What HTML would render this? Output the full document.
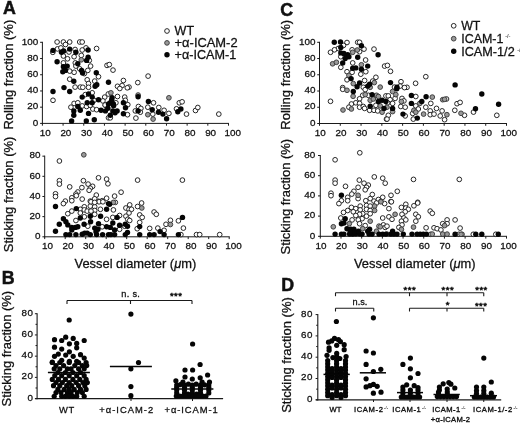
<!DOCTYPE html>
<html><head><meta charset="utf-8"><title>Figure</title>
<style>html,body{margin:0;padding:0;background:#fff}svg{display:block;will-change:transform}</style></head>
<body>
<svg width="520" height="423" viewBox="0 0 520 423" font-family='"Liberation Sans", Arial, Helvetica, sans-serif'>
<rect width="520" height="423" fill="#fff"/>
<text x="3.00" y="14.00" font-size="17.8" text-anchor="start" font-weight="bold" fill="#111" stroke="#111" stroke-width="0.5" >A</text>
<text x="1.80" y="284.30" font-size="17.8" text-anchor="start" font-weight="bold" fill="#111" stroke="#111" stroke-width="0.5" >B</text>
<text x="280.20" y="15.70" font-size="17.8" text-anchor="start" font-weight="bold" fill="#111" stroke="#111" stroke-width="0.5" >C</text>
<text x="281.20" y="290.80" font-size="17.8" text-anchor="start" font-weight="bold" fill="#111" stroke="#111" stroke-width="0.5" >D</text>
<line x1="42.40" y1="41.80" x2="42.40" y2="123.90" stroke="#1a1a1a" stroke-width="1.0"/>
<line x1="41.90" y1="123.40" x2="229.00" y2="123.40" stroke="#1a1a1a" stroke-width="1.0"/>
<line x1="40.10" y1="123.40" x2="42.40" y2="123.40" stroke="#1a1a1a" stroke-width="1.0"/>
<text x="38.20" y="125.60" font-size="9.9" text-anchor="end" font-weight="normal" fill="#111" stroke="#111" stroke-width="0.28" >0</text>
<line x1="40.10" y1="107.18" x2="42.40" y2="107.18" stroke="#1a1a1a" stroke-width="1.0"/>
<text x="38.20" y="109.38" font-size="9.9" text-anchor="end" font-weight="normal" fill="#111" stroke="#111" stroke-width="0.28" >20</text>
<line x1="40.10" y1="90.96" x2="42.40" y2="90.96" stroke="#1a1a1a" stroke-width="1.0"/>
<text x="38.20" y="93.16" font-size="9.9" text-anchor="end" font-weight="normal" fill="#111" stroke="#111" stroke-width="0.28" >40</text>
<line x1="40.10" y1="74.74" x2="42.40" y2="74.74" stroke="#1a1a1a" stroke-width="1.0"/>
<text x="38.20" y="76.94" font-size="9.9" text-anchor="end" font-weight="normal" fill="#111" stroke="#111" stroke-width="0.28" >60</text>
<line x1="40.10" y1="58.52" x2="42.40" y2="58.52" stroke="#1a1a1a" stroke-width="1.0"/>
<text x="38.20" y="60.72" font-size="9.9" text-anchor="end" font-weight="normal" fill="#111" stroke="#111" stroke-width="0.28" >80</text>
<line x1="40.10" y1="42.30" x2="42.40" y2="42.30" stroke="#1a1a1a" stroke-width="1.0"/>
<text x="38.20" y="44.50" font-size="9.9" text-anchor="end" font-weight="normal" fill="#111" stroke="#111" stroke-width="0.28" >100</text>
<line x1="42.40" y1="123.40" x2="42.40" y2="125.70" stroke="#1a1a1a" stroke-width="1.0"/>
<text x="45.20" y="136.00" font-size="9.9" text-anchor="middle" font-weight="normal" fill="#111" stroke="#111" stroke-width="0.28" >10</text>
<line x1="63.08" y1="123.40" x2="63.08" y2="125.70" stroke="#1a1a1a" stroke-width="1.0"/>
<text x="65.88" y="136.00" font-size="9.9" text-anchor="middle" font-weight="normal" fill="#111" stroke="#111" stroke-width="0.28" >20</text>
<line x1="83.76" y1="123.40" x2="83.76" y2="125.70" stroke="#1a1a1a" stroke-width="1.0"/>
<text x="86.56" y="136.00" font-size="9.9" text-anchor="middle" font-weight="normal" fill="#111" stroke="#111" stroke-width="0.28" >30</text>
<line x1="104.43" y1="123.40" x2="104.43" y2="125.70" stroke="#1a1a1a" stroke-width="1.0"/>
<text x="107.23" y="136.00" font-size="9.9" text-anchor="middle" font-weight="normal" fill="#111" stroke="#111" stroke-width="0.28" >40</text>
<line x1="125.11" y1="123.40" x2="125.11" y2="125.70" stroke="#1a1a1a" stroke-width="1.0"/>
<text x="127.91" y="136.00" font-size="9.9" text-anchor="middle" font-weight="normal" fill="#111" stroke="#111" stroke-width="0.28" >50</text>
<line x1="145.79" y1="123.40" x2="145.79" y2="125.70" stroke="#1a1a1a" stroke-width="1.0"/>
<text x="148.59" y="136.00" font-size="9.9" text-anchor="middle" font-weight="normal" fill="#111" stroke="#111" stroke-width="0.28" >60</text>
<line x1="166.47" y1="123.40" x2="166.47" y2="125.70" stroke="#1a1a1a" stroke-width="1.0"/>
<text x="169.27" y="136.00" font-size="9.9" text-anchor="middle" font-weight="normal" fill="#111" stroke="#111" stroke-width="0.28" >70</text>
<line x1="187.14" y1="123.40" x2="187.14" y2="125.70" stroke="#1a1a1a" stroke-width="1.0"/>
<text x="189.94" y="136.00" font-size="9.9" text-anchor="middle" font-weight="normal" fill="#111" stroke="#111" stroke-width="0.28" >80</text>
<line x1="207.82" y1="123.40" x2="207.82" y2="125.70" stroke="#1a1a1a" stroke-width="1.0"/>
<text x="210.62" y="136.00" font-size="9.9" text-anchor="middle" font-weight="normal" fill="#111" stroke="#111" stroke-width="0.28" >90</text>
<line x1="228.50" y1="123.40" x2="228.50" y2="125.70" stroke="#1a1a1a" stroke-width="1.0"/>
<text x="232.80" y="136.00" font-size="9.9" text-anchor="middle" font-weight="normal" fill="#111" stroke="#111" stroke-width="0.28" >100</text>
<circle cx="57.1" cy="42.0" r="2.35" fill="#fff" stroke="#1c1c1c" stroke-width="0.95"/>
<circle cx="63.4" cy="42.0" r="2.35" fill="#fff" stroke="#1c1c1c" stroke-width="0.95"/>
<circle cx="69.7" cy="42.0" r="2.35" fill="#fff" stroke="#1c1c1c" stroke-width="0.95"/>
<circle cx="79.7" cy="42.0" r="2.35" fill="#fff" stroke="#1c1c1c" stroke-width="0.95"/>
<circle cx="82.2" cy="42.0" r="2.35" fill="#fff" stroke="#1c1c1c" stroke-width="0.95"/>
<circle cx="65.5" cy="44.5" r="2.35" fill="#fff" stroke="#1c1c1c" stroke-width="0.95"/>
<circle cx="57.5" cy="48.9" r="2.35" fill="#fff" stroke="#1c1c1c" stroke-width="0.95"/>
<circle cx="60.9" cy="47.9" r="2.35" fill="#fff" stroke="#1c1c1c" stroke-width="0.95"/>
<circle cx="96.6" cy="48.5" r="2.35" fill="#fff" stroke="#1c1c1c" stroke-width="0.95"/>
<circle cx="86.0" cy="47.9" r="2.35" fill="#fff" stroke="#1c1c1c" stroke-width="0.95"/>
<circle cx="82.2" cy="50.0" r="2.35" fill="#fff" stroke="#1c1c1c" stroke-width="0.95"/>
<circle cx="75.1" cy="49.5" r="2.35" fill="#fff" stroke="#1c1c1c" stroke-width="0.95"/>
<circle cx="69.0" cy="52.0" r="2.35" fill="#fff" stroke="#1c1c1c" stroke-width="0.95"/>
<circle cx="63.4" cy="56.0" r="2.35" fill="#fff" stroke="#1c1c1c" stroke-width="0.95"/>
<circle cx="67.5" cy="58.8" r="2.35" fill="#fff" stroke="#1c1c1c" stroke-width="0.95"/>
<circle cx="74.1" cy="56.7" r="2.35" fill="#fff" stroke="#1c1c1c" stroke-width="0.95"/>
<circle cx="81.3" cy="55.4" r="2.35" fill="#fff" stroke="#1c1c1c" stroke-width="0.95"/>
<circle cx="63.4" cy="62.9" r="2.35" fill="#fff" stroke="#1c1c1c" stroke-width="0.95"/>
<circle cx="75.3" cy="62.9" r="2.35" fill="#fff" stroke="#1c1c1c" stroke-width="0.95"/>
<circle cx="75.9" cy="66.1" r="2.35" fill="#fff" stroke="#1c1c1c" stroke-width="0.95"/>
<circle cx="90.6" cy="66.1" r="2.35" fill="#fff" stroke="#1c1c1c" stroke-width="0.95"/>
<circle cx="87.8" cy="70.4" r="2.35" fill="#fff" stroke="#1c1c1c" stroke-width="0.95"/>
<circle cx="74.1" cy="72.3" r="2.35" fill="#fff" stroke="#1c1c1c" stroke-width="0.95"/>
<circle cx="69.7" cy="71.1" r="2.35" fill="#fff" stroke="#1c1c1c" stroke-width="0.95"/>
<circle cx="79.7" cy="68.8" r="2.35" fill="#fff" stroke="#1c1c1c" stroke-width="0.95"/>
<circle cx="84.3" cy="73.6" r="2.35" fill="#fff" stroke="#1c1c1c" stroke-width="0.95"/>
<circle cx="69.7" cy="79.2" r="2.35" fill="#fff" stroke="#1c1c1c" stroke-width="0.95"/>
<circle cx="87.2" cy="79.8" r="2.35" fill="#fff" stroke="#1c1c1c" stroke-width="0.95"/>
<circle cx="88.5" cy="83.6" r="2.35" fill="#fff" stroke="#1c1c1c" stroke-width="0.95"/>
<circle cx="94.7" cy="81.1" r="2.35" fill="#fff" stroke="#1c1c1c" stroke-width="0.95"/>
<circle cx="98.5" cy="76.7" r="2.35" fill="#fff" stroke="#1c1c1c" stroke-width="0.95"/>
<circle cx="107.0" cy="65.4" r="2.35" fill="#fff" stroke="#1c1c1c" stroke-width="0.95"/>
<circle cx="75.1" cy="87.1" r="2.35" fill="#fff" stroke="#1c1c1c" stroke-width="0.95"/>
<circle cx="80.3" cy="87.1" r="2.35" fill="#fff" stroke="#1c1c1c" stroke-width="0.95"/>
<circle cx="82.8" cy="87.3" r="2.35" fill="#fff" stroke="#1c1c1c" stroke-width="0.95"/>
<circle cx="88.5" cy="87.3" r="2.35" fill="#fff" stroke="#1c1c1c" stroke-width="0.95"/>
<circle cx="52.8" cy="52.3" r="2.35" fill="#fff" stroke="#1c1c1c" stroke-width="0.95"/>
<circle cx="89.3" cy="60.4" r="2.35" fill="#fff" stroke="#1c1c1c" stroke-width="0.95"/>
<circle cx="109.3" cy="64.6" r="2.35" fill="#fff" stroke="#1c1c1c" stroke-width="0.95"/>
<circle cx="113.0" cy="70.1" r="2.35" fill="#fff" stroke="#1c1c1c" stroke-width="0.95"/>
<circle cx="123.4" cy="80.5" r="2.35" fill="#fff" stroke="#1c1c1c" stroke-width="0.95"/>
<circle cx="148.1" cy="76.1" r="2.35" fill="#fff" stroke="#1c1c1c" stroke-width="0.95"/>
<circle cx="137.8" cy="82.6" r="2.35" fill="#fff" stroke="#1c1c1c" stroke-width="0.95"/>
<circle cx="117.5" cy="86.3" r="2.35" fill="#fff" stroke="#1c1c1c" stroke-width="0.95"/>
<circle cx="122.1" cy="85.5" r="2.35" fill="#fff" stroke="#1c1c1c" stroke-width="0.95"/>
<circle cx="129.0" cy="87.1" r="2.35" fill="#fff" stroke="#1c1c1c" stroke-width="0.95"/>
<circle cx="53.0" cy="100.3" r="2.35" fill="#fff" stroke="#1c1c1c" stroke-width="0.95"/>
<circle cx="92.2" cy="92.8" r="2.35" fill="#fff" stroke="#1c1c1c" stroke-width="0.95"/>
<circle cx="85.3" cy="94.6" r="2.35" fill="#fff" stroke="#1c1c1c" stroke-width="0.95"/>
<circle cx="74.1" cy="103.4" r="2.35" fill="#fff" stroke="#1c1c1c" stroke-width="0.95"/>
<circle cx="70.9" cy="107.2" r="2.35" fill="#fff" stroke="#1c1c1c" stroke-width="0.95"/>
<circle cx="77.8" cy="102.8" r="2.35" fill="#fff" stroke="#1c1c1c" stroke-width="0.95"/>
<circle cx="82.2" cy="105.9" r="2.35" fill="#fff" stroke="#1c1c1c" stroke-width="0.95"/>
<circle cx="86.6" cy="106.5" r="2.35" fill="#fff" stroke="#1c1c1c" stroke-width="0.95"/>
<circle cx="92.8" cy="109.0" r="2.35" fill="#fff" stroke="#1c1c1c" stroke-width="0.95"/>
<circle cx="96.6" cy="109.7" r="2.35" fill="#fff" stroke="#1c1c1c" stroke-width="0.95"/>
<circle cx="104.7" cy="97.1" r="2.35" fill="#fff" stroke="#1c1c1c" stroke-width="0.95"/>
<circle cx="102.9" cy="100.9" r="2.35" fill="#fff" stroke="#1c1c1c" stroke-width="0.95"/>
<circle cx="105.4" cy="105.3" r="2.35" fill="#fff" stroke="#1c1c1c" stroke-width="0.95"/>
<circle cx="108.5" cy="117.8" r="2.35" fill="#fff" stroke="#1c1c1c" stroke-width="0.95"/>
<circle cx="94.1" cy="100.3" r="2.35" fill="#fff" stroke="#1c1c1c" stroke-width="0.95"/>
<circle cx="90.3" cy="105.3" r="2.35" fill="#fff" stroke="#1c1c1c" stroke-width="0.95"/>
<circle cx="117.5" cy="96.5" r="2.35" fill="#fff" stroke="#1c1c1c" stroke-width="0.95"/>
<circle cx="124.7" cy="97.1" r="2.35" fill="#fff" stroke="#1c1c1c" stroke-width="0.95"/>
<circle cx="125.3" cy="100.3" r="2.35" fill="#fff" stroke="#1c1c1c" stroke-width="0.95"/>
<circle cx="127.8" cy="104.7" r="2.35" fill="#fff" stroke="#1c1c1c" stroke-width="0.95"/>
<circle cx="127.5" cy="114.7" r="2.35" fill="#fff" stroke="#1c1c1c" stroke-width="0.95"/>
<circle cx="135.9" cy="118.1" r="2.35" fill="#fff" stroke="#1c1c1c" stroke-width="0.95"/>
<circle cx="138.4" cy="106.5" r="2.35" fill="#fff" stroke="#1c1c1c" stroke-width="0.95"/>
<circle cx="140.9" cy="108.4" r="2.35" fill="#fff" stroke="#1c1c1c" stroke-width="0.95"/>
<circle cx="135.3" cy="110.9" r="2.35" fill="#fff" stroke="#1c1c1c" stroke-width="0.95"/>
<circle cx="140.3" cy="112.2" r="2.35" fill="#fff" stroke="#1c1c1c" stroke-width="0.95"/>
<circle cx="147.8" cy="107.2" r="2.35" fill="#fff" stroke="#1c1c1c" stroke-width="0.95"/>
<circle cx="153.5" cy="102.8" r="2.35" fill="#fff" stroke="#1c1c1c" stroke-width="0.95"/>
<circle cx="152.8" cy="114.1" r="2.35" fill="#fff" stroke="#1c1c1c" stroke-width="0.95"/>
<circle cx="158.8" cy="107.5" r="2.35" fill="#fff" stroke="#1c1c1c" stroke-width="0.95"/>
<circle cx="164.1" cy="110.3" r="2.35" fill="#fff" stroke="#1c1c1c" stroke-width="0.95"/>
<circle cx="168.9" cy="113.4" r="2.35" fill="#fff" stroke="#1c1c1c" stroke-width="0.95"/>
<circle cx="115.9" cy="102.8" r="2.35" fill="#fff" stroke="#1c1c1c" stroke-width="0.95"/>
<circle cx="110.3" cy="117.8" r="2.35" fill="#fff" stroke="#1c1c1c" stroke-width="0.95"/>
<circle cx="179.3" cy="102.8" r="2.35" fill="#fff" stroke="#1c1c1c" stroke-width="0.95"/>
<circle cx="182.1" cy="101.8" r="2.35" fill="#fff" stroke="#1c1c1c" stroke-width="0.95"/>
<circle cx="186.5" cy="114.1" r="2.35" fill="#fff" stroke="#1c1c1c" stroke-width="0.95"/>
<circle cx="195.5" cy="110.5" r="2.35" fill="#fff" stroke="#1c1c1c" stroke-width="0.95"/>
<circle cx="197.8" cy="107.5" r="2.35" fill="#fff" stroke="#1c1c1c" stroke-width="0.95"/>
<circle cx="218.8" cy="114.1" r="2.35" fill="#fff" stroke="#1c1c1c" stroke-width="0.95"/>
<circle cx="176.5" cy="108.8" r="2.35" fill="#fff" stroke="#1c1c1c" stroke-width="0.95"/>
<circle cx="119.8" cy="88.5" r="2.35" fill="#fff" stroke="#1c1c1c" stroke-width="0.95"/>
<circle cx="127.3" cy="87.8" r="2.35" fill="#fff" stroke="#1c1c1c" stroke-width="0.95"/>
<circle cx="108.3" cy="94.0" r="2.35" fill="#fff" stroke="#1c1c1c" stroke-width="0.95"/>
<circle cx="105.1" cy="105.0" r="2.35" fill="#fff" stroke="#1c1c1c" stroke-width="0.95"/>
<circle cx="81.3" cy="59.8" r="2.35" fill="#999" stroke="#3a3a3a" stroke-width="0.95"/>
<circle cx="110.9" cy="92.8" r="2.35" fill="#999" stroke="#3a3a3a" stroke-width="0.95"/>
<circle cx="138.1" cy="95.0" r="2.35" fill="#999" stroke="#3a3a3a" stroke-width="0.95"/>
<circle cx="147.8" cy="114.7" r="2.35" fill="#999" stroke="#3a3a3a" stroke-width="0.95"/>
<circle cx="153.1" cy="119.1" r="2.35" fill="#999" stroke="#3a3a3a" stroke-width="0.95"/>
<circle cx="168.9" cy="97.8" r="2.35" fill="#999" stroke="#3a3a3a" stroke-width="0.95"/>
<circle cx="53.0" cy="50.4" r="2.7" fill="#050505"/>
<circle cx="61.5" cy="52.3" r="2.7" fill="#050505"/>
<circle cx="63.7" cy="51.0" r="2.7" fill="#050505"/>
<circle cx="69.7" cy="49.1" r="2.7" fill="#050505"/>
<circle cx="75.9" cy="52.3" r="2.7" fill="#050505"/>
<circle cx="88.1" cy="50.0" r="2.7" fill="#050505"/>
<circle cx="88.1" cy="57.3" r="2.7" fill="#050505"/>
<circle cx="86.6" cy="60.4" r="2.7" fill="#050505"/>
<circle cx="57.1" cy="61.7" r="2.7" fill="#050505"/>
<circle cx="77.8" cy="63.8" r="2.7" fill="#050505"/>
<circle cx="63.4" cy="66.7" r="2.7" fill="#050505"/>
<circle cx="67.2" cy="66.1" r="2.7" fill="#050505"/>
<circle cx="62.8" cy="71.7" r="2.7" fill="#050505"/>
<circle cx="65.5" cy="70.4" r="2.7" fill="#050505"/>
<circle cx="81.6" cy="70.4" r="2.7" fill="#050505"/>
<circle cx="82.6" cy="72.9" r="2.7" fill="#050505"/>
<circle cx="96.3" cy="72.7" r="2.7" fill="#050505"/>
<circle cx="73.8" cy="81.3" r="2.7" fill="#050505"/>
<circle cx="64.0" cy="87.6" r="2.7" fill="#050505"/>
<circle cx="95.1" cy="86.3" r="2.7" fill="#050505"/>
<circle cx="96.8" cy="84.8" r="2.7" fill="#050505"/>
<circle cx="108.5" cy="82.3" r="2.7" fill="#050505"/>
<circle cx="53.0" cy="91.5" r="2.7" fill="#050505"/>
<circle cx="69.7" cy="91.5" r="2.7" fill="#050505"/>
<circle cx="82.2" cy="97.1" r="2.7" fill="#050505"/>
<circle cx="88.5" cy="94.0" r="2.7" fill="#050505"/>
<circle cx="92.2" cy="97.1" r="2.7" fill="#050505"/>
<circle cx="87.2" cy="102.8" r="2.7" fill="#050505"/>
<circle cx="92.2" cy="102.8" r="2.7" fill="#050505"/>
<circle cx="98.5" cy="99.7" r="2.7" fill="#050505"/>
<circle cx="77.8" cy="106.5" r="2.7" fill="#050505"/>
<circle cx="80.3" cy="110.3" r="2.7" fill="#050505"/>
<circle cx="73.8" cy="110.9" r="2.7" fill="#050505"/>
<circle cx="73.8" cy="115.3" r="2.7" fill="#050505"/>
<circle cx="88.5" cy="113.4" r="2.7" fill="#050505"/>
<circle cx="71.6" cy="120.9" r="2.7" fill="#050505"/>
<circle cx="86.3" cy="120.9" r="2.7" fill="#050505"/>
<circle cx="94.3" cy="119.7" r="2.7" fill="#050505"/>
<circle cx="101.0" cy="110.3" r="2.7" fill="#050505"/>
<circle cx="105.4" cy="110.9" r="2.7" fill="#050505"/>
<circle cx="108.5" cy="104.0" r="2.7" fill="#050505"/>
<circle cx="138.1" cy="96.8" r="2.7" fill="#050505"/>
<circle cx="148.4" cy="101.5" r="2.7" fill="#050505"/>
<circle cx="152.2" cy="109.7" r="2.7" fill="#050505"/>
<circle cx="158.5" cy="112.2" r="2.7" fill="#050505"/>
<circle cx="162.9" cy="114.1" r="2.7" fill="#050505"/>
<circle cx="166.6" cy="118.8" r="2.7" fill="#050505"/>
<circle cx="123.4" cy="102.8" r="2.7" fill="#050505"/>
<circle cx="125.5" cy="107.8" r="2.7" fill="#050505"/>
<circle cx="123.4" cy="113.8" r="2.7" fill="#050505"/>
<circle cx="138.1" cy="110.9" r="2.7" fill="#050505"/>
<circle cx="112.1" cy="97.8" r="2.7" fill="#050505"/>
<circle cx="110.3" cy="102.8" r="2.7" fill="#050505"/>
<circle cx="113.4" cy="104.0" r="2.7" fill="#050505"/>
<circle cx="112.8" cy="110.9" r="2.7" fill="#050505"/>
<circle cx="117.1" cy="110.9" r="2.7" fill="#050505"/>
<circle cx="110.3" cy="115.3" r="2.7" fill="#050505"/>
<circle cx="177.8" cy="111.8" r="2.7" fill="#050505"/>
<circle cx="180.9" cy="109.0" r="2.7" fill="#050505"/>
<circle cx="113.6" cy="105.7" r="2.7" fill="#050505"/>
<circle cx="115.1" cy="112.8" r="2.7" fill="#050505"/>
<circle cx="107.9" cy="108.2" r="2.7" fill="#050505"/>
<circle cx="111.7" cy="100.0" r="2.7" fill="#050505"/>
<line x1="44.70" y1="155.65" x2="44.70" y2="237.30" stroke="#1a1a1a" stroke-width="1.0"/>
<line x1="44.20" y1="236.80" x2="229.70" y2="236.80" stroke="#1a1a1a" stroke-width="1.0"/>
<line x1="42.40" y1="236.80" x2="44.70" y2="236.80" stroke="#1a1a1a" stroke-width="1.0"/>
<text x="40.50" y="239.00" font-size="9.9" text-anchor="end" font-weight="normal" fill="#111" stroke="#111" stroke-width="0.28" >0</text>
<line x1="42.40" y1="216.64" x2="44.70" y2="216.64" stroke="#1a1a1a" stroke-width="1.0"/>
<text x="40.50" y="218.84" font-size="9.9" text-anchor="end" font-weight="normal" fill="#111" stroke="#111" stroke-width="0.28" >20</text>
<line x1="42.40" y1="196.48" x2="44.70" y2="196.48" stroke="#1a1a1a" stroke-width="1.0"/>
<text x="40.50" y="198.68" font-size="9.9" text-anchor="end" font-weight="normal" fill="#111" stroke="#111" stroke-width="0.28" >40</text>
<line x1="42.40" y1="176.32" x2="44.70" y2="176.32" stroke="#1a1a1a" stroke-width="1.0"/>
<text x="40.50" y="178.52" font-size="9.9" text-anchor="end" font-weight="normal" fill="#111" stroke="#111" stroke-width="0.28" >60</text>
<line x1="42.40" y1="156.16" x2="44.70" y2="156.16" stroke="#1a1a1a" stroke-width="1.0"/>
<text x="40.50" y="158.36" font-size="9.9" text-anchor="end" font-weight="normal" fill="#111" stroke="#111" stroke-width="0.28" >80</text>
<line x1="44.70" y1="236.80" x2="44.70" y2="239.10" stroke="#1a1a1a" stroke-width="1.0"/>
<text x="47.50" y="248.50" font-size="9.9" text-anchor="middle" font-weight="normal" fill="#111" stroke="#111" stroke-width="0.28" >10</text>
<line x1="65.20" y1="236.80" x2="65.20" y2="239.10" stroke="#1a1a1a" stroke-width="1.0"/>
<text x="68.00" y="248.50" font-size="9.9" text-anchor="middle" font-weight="normal" fill="#111" stroke="#111" stroke-width="0.28" >20</text>
<line x1="85.70" y1="236.80" x2="85.70" y2="239.10" stroke="#1a1a1a" stroke-width="1.0"/>
<text x="88.50" y="248.50" font-size="9.9" text-anchor="middle" font-weight="normal" fill="#111" stroke="#111" stroke-width="0.28" >30</text>
<line x1="106.20" y1="236.80" x2="106.20" y2="239.10" stroke="#1a1a1a" stroke-width="1.0"/>
<text x="109.00" y="248.50" font-size="9.9" text-anchor="middle" font-weight="normal" fill="#111" stroke="#111" stroke-width="0.28" >40</text>
<line x1="126.70" y1="236.80" x2="126.70" y2="239.10" stroke="#1a1a1a" stroke-width="1.0"/>
<text x="129.50" y="248.50" font-size="9.9" text-anchor="middle" font-weight="normal" fill="#111" stroke="#111" stroke-width="0.28" >50</text>
<line x1="147.20" y1="236.80" x2="147.20" y2="239.10" stroke="#1a1a1a" stroke-width="1.0"/>
<text x="150.00" y="248.50" font-size="9.9" text-anchor="middle" font-weight="normal" fill="#111" stroke="#111" stroke-width="0.28" >60</text>
<line x1="167.70" y1="236.80" x2="167.70" y2="239.10" stroke="#1a1a1a" stroke-width="1.0"/>
<text x="170.50" y="248.50" font-size="9.9" text-anchor="middle" font-weight="normal" fill="#111" stroke="#111" stroke-width="0.28" >70</text>
<line x1="188.20" y1="236.80" x2="188.20" y2="239.10" stroke="#1a1a1a" stroke-width="1.0"/>
<text x="191.00" y="248.50" font-size="9.9" text-anchor="middle" font-weight="normal" fill="#111" stroke="#111" stroke-width="0.28" >80</text>
<line x1="208.70" y1="236.80" x2="208.70" y2="239.10" stroke="#1a1a1a" stroke-width="1.0"/>
<text x="211.50" y="248.50" font-size="9.9" text-anchor="middle" font-weight="normal" fill="#111" stroke="#111" stroke-width="0.28" >90</text>
<line x1="229.20" y1="236.80" x2="229.20" y2="239.10" stroke="#1a1a1a" stroke-width="1.0"/>
<text x="233.50" y="248.50" font-size="9.9" text-anchor="middle" font-weight="normal" fill="#111" stroke="#111" stroke-width="0.28" >100</text>
<circle cx="59.4" cy="161.0" r="2.35" fill="#fff" stroke="#1c1c1c" stroke-width="0.95"/>
<circle cx="59.4" cy="180.7" r="2.35" fill="#fff" stroke="#1c1c1c" stroke-width="0.95"/>
<circle cx="59.4" cy="184.1" r="2.35" fill="#fff" stroke="#1c1c1c" stroke-width="0.95"/>
<circle cx="69.7" cy="186.9" r="2.35" fill="#fff" stroke="#1c1c1c" stroke-width="0.95"/>
<circle cx="55.5" cy="193.8" r="2.35" fill="#fff" stroke="#1c1c1c" stroke-width="0.95"/>
<circle cx="55.5" cy="196.6" r="2.35" fill="#fff" stroke="#1c1c1c" stroke-width="0.95"/>
<circle cx="83.4" cy="180.7" r="2.35" fill="#fff" stroke="#1c1c1c" stroke-width="0.95"/>
<circle cx="88.1" cy="184.1" r="2.35" fill="#fff" stroke="#1c1c1c" stroke-width="0.95"/>
<circle cx="92.6" cy="186.3" r="2.35" fill="#fff" stroke="#1c1c1c" stroke-width="0.95"/>
<circle cx="90.3" cy="188.2" r="2.35" fill="#fff" stroke="#1c1c1c" stroke-width="0.95"/>
<circle cx="89.1" cy="190.3" r="2.35" fill="#fff" stroke="#1c1c1c" stroke-width="0.95"/>
<circle cx="81.9" cy="187.6" r="2.35" fill="#fff" stroke="#1c1c1c" stroke-width="0.95"/>
<circle cx="77.8" cy="192.0" r="2.35" fill="#fff" stroke="#1c1c1c" stroke-width="0.95"/>
<circle cx="75.9" cy="194.1" r="2.35" fill="#fff" stroke="#1c1c1c" stroke-width="0.95"/>
<circle cx="76.3" cy="195.7" r="2.35" fill="#fff" stroke="#1c1c1c" stroke-width="0.95"/>
<circle cx="71.8" cy="197.8" r="2.35" fill="#fff" stroke="#1c1c1c" stroke-width="0.95"/>
<circle cx="71.8" cy="200.7" r="2.35" fill="#fff" stroke="#1c1c1c" stroke-width="0.95"/>
<circle cx="65.3" cy="201.1" r="2.35" fill="#fff" stroke="#1c1c1c" stroke-width="0.95"/>
<circle cx="82.2" cy="199.1" r="2.35" fill="#fff" stroke="#1c1c1c" stroke-width="0.95"/>
<circle cx="98.5" cy="177.8" r="2.35" fill="#fff" stroke="#1c1c1c" stroke-width="0.95"/>
<circle cx="106.6" cy="179.1" r="2.35" fill="#fff" stroke="#1c1c1c" stroke-width="0.95"/>
<circle cx="107.9" cy="183.8" r="2.35" fill="#fff" stroke="#1c1c1c" stroke-width="0.95"/>
<circle cx="96.3" cy="195.1" r="2.35" fill="#fff" stroke="#1c1c1c" stroke-width="0.95"/>
<circle cx="106.6" cy="198.2" r="2.35" fill="#fff" stroke="#1c1c1c" stroke-width="0.95"/>
<circle cx="94.7" cy="198.8" r="2.35" fill="#fff" stroke="#1c1c1c" stroke-width="0.95"/>
<circle cx="90.3" cy="201.1" r="2.35" fill="#fff" stroke="#1c1c1c" stroke-width="0.95"/>
<circle cx="102.2" cy="200.7" r="2.35" fill="#fff" stroke="#1c1c1c" stroke-width="0.95"/>
<circle cx="98.5" cy="201.3" r="2.35" fill="#fff" stroke="#1c1c1c" stroke-width="0.95"/>
<circle cx="137.6" cy="180.1" r="2.35" fill="#fff" stroke="#1c1c1c" stroke-width="0.95"/>
<circle cx="121.1" cy="192.2" r="2.35" fill="#fff" stroke="#1c1c1c" stroke-width="0.95"/>
<circle cx="114.6" cy="196.1" r="2.35" fill="#fff" stroke="#1c1c1c" stroke-width="0.95"/>
<circle cx="182.4" cy="180.1" r="2.35" fill="#fff" stroke="#1c1c1c" stroke-width="0.95"/>
<circle cx="63.4" cy="203.6" r="2.35" fill="#fff" stroke="#1c1c1c" stroke-width="0.95"/>
<circle cx="67.8" cy="213.7" r="2.35" fill="#fff" stroke="#1c1c1c" stroke-width="0.95"/>
<circle cx="71.8" cy="211.1" r="2.35" fill="#fff" stroke="#1c1c1c" stroke-width="0.95"/>
<circle cx="75.9" cy="220.5" r="2.35" fill="#fff" stroke="#1c1c1c" stroke-width="0.95"/>
<circle cx="80.3" cy="209.3" r="2.35" fill="#fff" stroke="#1c1c1c" stroke-width="0.95"/>
<circle cx="84.3" cy="206.8" r="2.35" fill="#fff" stroke="#1c1c1c" stroke-width="0.95"/>
<circle cx="84.3" cy="209.9" r="2.35" fill="#fff" stroke="#1c1c1c" stroke-width="0.95"/>
<circle cx="84.3" cy="216.8" r="2.35" fill="#fff" stroke="#1c1c1c" stroke-width="0.95"/>
<circle cx="87.2" cy="211.1" r="2.35" fill="#fff" stroke="#1c1c1c" stroke-width="0.95"/>
<circle cx="90.3" cy="206.1" r="2.35" fill="#fff" stroke="#1c1c1c" stroke-width="0.95"/>
<circle cx="94.7" cy="206.8" r="2.35" fill="#fff" stroke="#1c1c1c" stroke-width="0.95"/>
<circle cx="94.7" cy="210.5" r="2.35" fill="#fff" stroke="#1c1c1c" stroke-width="0.95"/>
<circle cx="94.7" cy="214.3" r="2.35" fill="#fff" stroke="#1c1c1c" stroke-width="0.95"/>
<circle cx="91.0" cy="211.1" r="2.35" fill="#fff" stroke="#1c1c1c" stroke-width="0.95"/>
<circle cx="100.4" cy="209.3" r="2.35" fill="#fff" stroke="#1c1c1c" stroke-width="0.95"/>
<circle cx="99.1" cy="201.8" r="2.35" fill="#fff" stroke="#1c1c1c" stroke-width="0.95"/>
<circle cx="102.9" cy="201.8" r="2.35" fill="#fff" stroke="#1c1c1c" stroke-width="0.95"/>
<circle cx="106.6" cy="219.3" r="2.35" fill="#fff" stroke="#1c1c1c" stroke-width="0.95"/>
<circle cx="102.2" cy="226.8" r="2.35" fill="#fff" stroke="#1c1c1c" stroke-width="0.95"/>
<circle cx="87.8" cy="226.2" r="2.35" fill="#fff" stroke="#1c1c1c" stroke-width="0.95"/>
<circle cx="80.3" cy="213.0" r="2.35" fill="#fff" stroke="#1c1c1c" stroke-width="0.95"/>
<circle cx="91.0" cy="201.8" r="2.35" fill="#fff" stroke="#1c1c1c" stroke-width="0.95"/>
<circle cx="94.7" cy="202.4" r="2.35" fill="#fff" stroke="#1c1c1c" stroke-width="0.95"/>
<circle cx="113.4" cy="209.9" r="2.35" fill="#fff" stroke="#1c1c1c" stroke-width="0.95"/>
<circle cx="115.3" cy="202.4" r="2.35" fill="#fff" stroke="#1c1c1c" stroke-width="0.95"/>
<circle cx="112.8" cy="217.4" r="2.35" fill="#fff" stroke="#1c1c1c" stroke-width="0.95"/>
<circle cx="119.6" cy="215.5" r="2.35" fill="#fff" stroke="#1c1c1c" stroke-width="0.95"/>
<circle cx="125.9" cy="208.0" r="2.35" fill="#fff" stroke="#1c1c1c" stroke-width="0.95"/>
<circle cx="129.7" cy="204.9" r="2.35" fill="#fff" stroke="#1c1c1c" stroke-width="0.95"/>
<circle cx="129.0" cy="209.3" r="2.35" fill="#fff" stroke="#1c1c1c" stroke-width="0.95"/>
<circle cx="131.5" cy="209.3" r="2.35" fill="#fff" stroke="#1c1c1c" stroke-width="0.95"/>
<circle cx="129.0" cy="213.0" r="2.35" fill="#fff" stroke="#1c1c1c" stroke-width="0.95"/>
<circle cx="125.9" cy="216.2" r="2.35" fill="#fff" stroke="#1c1c1c" stroke-width="0.95"/>
<circle cx="127.8" cy="219.3" r="2.35" fill="#fff" stroke="#1c1c1c" stroke-width="0.95"/>
<circle cx="129.7" cy="220.5" r="2.35" fill="#fff" stroke="#1c1c1c" stroke-width="0.95"/>
<circle cx="124.7" cy="226.2" r="2.35" fill="#fff" stroke="#1c1c1c" stroke-width="0.95"/>
<circle cx="119.6" cy="229.3" r="2.35" fill="#fff" stroke="#1c1c1c" stroke-width="0.95"/>
<circle cx="141.6" cy="203.0" r="2.35" fill="#fff" stroke="#1c1c1c" stroke-width="0.95"/>
<circle cx="137.6" cy="206.5" r="2.35" fill="#fff" stroke="#1c1c1c" stroke-width="0.95"/>
<circle cx="139.7" cy="214.9" r="2.35" fill="#fff" stroke="#1c1c1c" stroke-width="0.95"/>
<circle cx="142.2" cy="217.4" r="2.35" fill="#fff" stroke="#1c1c1c" stroke-width="0.95"/>
<circle cx="139.7" cy="222.4" r="2.35" fill="#fff" stroke="#1c1c1c" stroke-width="0.95"/>
<circle cx="137.2" cy="228.7" r="2.35" fill="#fff" stroke="#1c1c1c" stroke-width="0.95"/>
<circle cx="149.7" cy="228.4" r="2.35" fill="#fff" stroke="#1c1c1c" stroke-width="0.95"/>
<circle cx="154.1" cy="212.0" r="2.35" fill="#fff" stroke="#1c1c1c" stroke-width="0.95"/>
<circle cx="156.3" cy="214.3" r="2.35" fill="#fff" stroke="#1c1c1c" stroke-width="0.95"/>
<circle cx="157.8" cy="228.1" r="2.35" fill="#fff" stroke="#1c1c1c" stroke-width="0.95"/>
<circle cx="164.1" cy="230.3" r="2.35" fill="#fff" stroke="#1c1c1c" stroke-width="0.95"/>
<circle cx="166.0" cy="224.3" r="2.35" fill="#fff" stroke="#1c1c1c" stroke-width="0.95"/>
<circle cx="170.4" cy="220.3" r="2.35" fill="#fff" stroke="#1c1c1c" stroke-width="0.95"/>
<circle cx="178.4" cy="220.8" r="2.35" fill="#fff" stroke="#1c1c1c" stroke-width="0.95"/>
<circle cx="183.4" cy="228.1" r="2.35" fill="#fff" stroke="#1c1c1c" stroke-width="0.95"/>
<circle cx="180.9" cy="234.6" r="2.35" fill="#fff" stroke="#1c1c1c" stroke-width="0.95"/>
<circle cx="196.5" cy="234.6" r="2.35" fill="#fff" stroke="#1c1c1c" stroke-width="0.95"/>
<circle cx="199.7" cy="234.6" r="2.35" fill="#fff" stroke="#1c1c1c" stroke-width="0.95"/>
<circle cx="219.7" cy="234.6" r="2.35" fill="#fff" stroke="#1c1c1c" stroke-width="0.95"/>
<circle cx="83.8" cy="154.8" r="2.35" fill="#999" stroke="#3a3a3a" stroke-width="0.95"/>
<circle cx="113.4" cy="202.4" r="2.35" fill="#999" stroke="#3a3a3a" stroke-width="0.95"/>
<circle cx="141.8" cy="208.0" r="2.35" fill="#999" stroke="#3a3a3a" stroke-width="0.95"/>
<circle cx="170.4" cy="224.5" r="2.35" fill="#999" stroke="#3a3a3a" stroke-width="0.95"/>
<circle cx="55.5" cy="206.5" r="2.7" fill="#050505"/>
<circle cx="59.3" cy="224.3" r="2.7" fill="#050505"/>
<circle cx="55.5" cy="231.2" r="2.7" fill="#050505"/>
<circle cx="63.4" cy="218.7" r="2.7" fill="#050505"/>
<circle cx="65.9" cy="221.8" r="2.7" fill="#050505"/>
<circle cx="67.8" cy="224.9" r="2.7" fill="#050505"/>
<circle cx="71.8" cy="227.4" r="2.7" fill="#050505"/>
<circle cx="75.3" cy="227.4" r="2.7" fill="#050505"/>
<circle cx="77.8" cy="226.8" r="2.7" fill="#050505"/>
<circle cx="76.3" cy="208.6" r="2.7" fill="#050505"/>
<circle cx="80.3" cy="218.0" r="2.7" fill="#050505"/>
<circle cx="84.1" cy="224.3" r="2.7" fill="#050505"/>
<circle cx="90.3" cy="216.2" r="2.7" fill="#050505"/>
<circle cx="90.6" cy="221.8" r="2.7" fill="#050505"/>
<circle cx="100.6" cy="216.2" r="2.7" fill="#050505"/>
<circle cx="98.5" cy="223.7" r="2.7" fill="#050505"/>
<circle cx="94.7" cy="228.1" r="2.7" fill="#050505"/>
<circle cx="97.9" cy="229.3" r="2.7" fill="#050505"/>
<circle cx="106.6" cy="209.3" r="2.7" fill="#050505"/>
<circle cx="108.5" cy="203.6" r="2.7" fill="#050505"/>
<circle cx="106.6" cy="226.8" r="2.7" fill="#050505"/>
<circle cx="65.9" cy="234.6" r="2.7" fill="#050505"/>
<circle cx="69.7" cy="234.6" r="2.7" fill="#050505"/>
<circle cx="75.9" cy="234.6" r="2.7" fill="#050505"/>
<circle cx="82.2" cy="234.3" r="2.7" fill="#050505"/>
<circle cx="84.7" cy="233.1" r="2.7" fill="#050505"/>
<circle cx="87.2" cy="233.1" r="2.7" fill="#050505"/>
<circle cx="90.3" cy="234.6" r="2.7" fill="#050505"/>
<circle cx="96.6" cy="234.6" r="2.7" fill="#050505"/>
<circle cx="102.6" cy="234.6" r="2.7" fill="#050505"/>
<circle cx="108.5" cy="234.6" r="2.7" fill="#050505"/>
<circle cx="71.8" cy="229.9" r="2.7" fill="#050505"/>
<circle cx="96.0" cy="231.8" r="2.7" fill="#050505"/>
<circle cx="109.6" cy="204.3" r="2.7" fill="#050505"/>
<circle cx="117.1" cy="217.4" r="2.7" fill="#050505"/>
<circle cx="112.8" cy="223.0" r="2.7" fill="#050505"/>
<circle cx="110.3" cy="227.4" r="2.7" fill="#050505"/>
<circle cx="119.6" cy="225.3" r="2.7" fill="#050505"/>
<circle cx="125.3" cy="224.3" r="2.7" fill="#050505"/>
<circle cx="127.5" cy="226.2" r="2.7" fill="#050505"/>
<circle cx="114.6" cy="229.9" r="2.7" fill="#050505"/>
<circle cx="127.5" cy="232.4" r="2.7" fill="#050505"/>
<circle cx="125.3" cy="234.6" r="2.7" fill="#050505"/>
<circle cx="110.9" cy="234.6" r="2.7" fill="#050505"/>
<circle cx="114.6" cy="234.6" r="2.7" fill="#050505"/>
<circle cx="139.7" cy="226.6" r="2.7" fill="#050505"/>
<circle cx="139.7" cy="234.6" r="2.7" fill="#050505"/>
<circle cx="149.7" cy="234.6" r="2.7" fill="#050505"/>
<circle cx="154.1" cy="234.6" r="2.7" fill="#050505"/>
<circle cx="160.1" cy="231.6" r="2.7" fill="#050505"/>
<circle cx="164.1" cy="234.6" r="2.7" fill="#050505"/>
<circle cx="182.5" cy="217.4" r="2.7" fill="#050505"/>
<circle cx="178.4" cy="234.6" r="2.7" fill="#050505"/>
<line x1="319.50" y1="41.80" x2="319.50" y2="124.00" stroke="#1a1a1a" stroke-width="1.0"/>
<line x1="319.00" y1="123.50" x2="507.00" y2="123.50" stroke="#1a1a1a" stroke-width="1.0"/>
<line x1="317.20" y1="123.50" x2="319.50" y2="123.50" stroke="#1a1a1a" stroke-width="1.0"/>
<text x="315.50" y="125.70" font-size="9.9" text-anchor="end" font-weight="normal" fill="#111" stroke="#111" stroke-width="0.28" >0</text>
<line x1="317.20" y1="107.26" x2="319.50" y2="107.26" stroke="#1a1a1a" stroke-width="1.0"/>
<text x="315.50" y="109.46" font-size="9.9" text-anchor="end" font-weight="normal" fill="#111" stroke="#111" stroke-width="0.28" >20</text>
<line x1="317.20" y1="91.02" x2="319.50" y2="91.02" stroke="#1a1a1a" stroke-width="1.0"/>
<text x="315.50" y="93.22" font-size="9.9" text-anchor="end" font-weight="normal" fill="#111" stroke="#111" stroke-width="0.28" >40</text>
<line x1="317.20" y1="74.78" x2="319.50" y2="74.78" stroke="#1a1a1a" stroke-width="1.0"/>
<text x="315.50" y="76.98" font-size="9.9" text-anchor="end" font-weight="normal" fill="#111" stroke="#111" stroke-width="0.28" >60</text>
<line x1="317.20" y1="58.54" x2="319.50" y2="58.54" stroke="#1a1a1a" stroke-width="1.0"/>
<text x="315.50" y="60.74" font-size="9.9" text-anchor="end" font-weight="normal" fill="#111" stroke="#111" stroke-width="0.28" >80</text>
<line x1="317.20" y1="42.30" x2="319.50" y2="42.30" stroke="#1a1a1a" stroke-width="1.0"/>
<text x="315.50" y="44.50" font-size="9.9" text-anchor="end" font-weight="normal" fill="#111" stroke="#111" stroke-width="0.28" >100</text>
<line x1="319.50" y1="123.50" x2="319.50" y2="125.80" stroke="#1a1a1a" stroke-width="1.0"/>
<text x="320.20" y="135.60" font-size="9.9" text-anchor="middle" font-weight="normal" fill="#111" stroke="#111" stroke-width="0.28" >10</text>
<line x1="340.28" y1="123.50" x2="340.28" y2="125.80" stroke="#1a1a1a" stroke-width="1.0"/>
<text x="340.98" y="135.60" font-size="9.9" text-anchor="middle" font-weight="normal" fill="#111" stroke="#111" stroke-width="0.28" >20</text>
<line x1="361.06" y1="123.50" x2="361.06" y2="125.80" stroke="#1a1a1a" stroke-width="1.0"/>
<text x="361.76" y="135.60" font-size="9.9" text-anchor="middle" font-weight="normal" fill="#111" stroke="#111" stroke-width="0.28" >30</text>
<line x1="381.83" y1="123.50" x2="381.83" y2="125.80" stroke="#1a1a1a" stroke-width="1.0"/>
<text x="382.53" y="135.60" font-size="9.9" text-anchor="middle" font-weight="normal" fill="#111" stroke="#111" stroke-width="0.28" >40</text>
<line x1="402.61" y1="123.50" x2="402.61" y2="125.80" stroke="#1a1a1a" stroke-width="1.0"/>
<text x="403.31" y="135.60" font-size="9.9" text-anchor="middle" font-weight="normal" fill="#111" stroke="#111" stroke-width="0.28" >50</text>
<line x1="423.39" y1="123.50" x2="423.39" y2="125.80" stroke="#1a1a1a" stroke-width="1.0"/>
<text x="424.09" y="135.60" font-size="9.9" text-anchor="middle" font-weight="normal" fill="#111" stroke="#111" stroke-width="0.28" >60</text>
<line x1="444.17" y1="123.50" x2="444.17" y2="125.80" stroke="#1a1a1a" stroke-width="1.0"/>
<text x="444.87" y="135.60" font-size="9.9" text-anchor="middle" font-weight="normal" fill="#111" stroke="#111" stroke-width="0.28" >70</text>
<line x1="464.94" y1="123.50" x2="464.94" y2="125.80" stroke="#1a1a1a" stroke-width="1.0"/>
<text x="465.64" y="135.60" font-size="9.9" text-anchor="middle" font-weight="normal" fill="#111" stroke="#111" stroke-width="0.28" >80</text>
<line x1="485.72" y1="123.50" x2="485.72" y2="125.80" stroke="#1a1a1a" stroke-width="1.0"/>
<text x="486.42" y="135.60" font-size="9.9" text-anchor="middle" font-weight="normal" fill="#111" stroke="#111" stroke-width="0.28" >90</text>
<line x1="506.50" y1="123.50" x2="506.50" y2="125.80" stroke="#1a1a1a" stroke-width="1.0"/>
<text x="508.70" y="135.60" font-size="9.9" text-anchor="middle" font-weight="normal" fill="#111" stroke="#111" stroke-width="0.28" >100</text>
<circle cx="347.0" cy="42.5" r="2.35" fill="#fff" stroke="#1c1c1c" stroke-width="0.95"/>
<circle cx="357.7" cy="42.3" r="2.35" fill="#fff" stroke="#1c1c1c" stroke-width="0.95"/>
<circle cx="359.6" cy="42.3" r="2.35" fill="#fff" stroke="#1c1c1c" stroke-width="0.95"/>
<circle cx="343.5" cy="45.4" r="2.35" fill="#fff" stroke="#1c1c1c" stroke-width="0.95"/>
<circle cx="338.3" cy="48.5" r="2.35" fill="#fff" stroke="#1c1c1c" stroke-width="0.95"/>
<circle cx="334.5" cy="49.8" r="2.35" fill="#fff" stroke="#1c1c1c" stroke-width="0.95"/>
<circle cx="330.5" cy="52.3" r="2.35" fill="#fff" stroke="#1c1c1c" stroke-width="0.95"/>
<circle cx="352.1" cy="49.8" r="2.35" fill="#fff" stroke="#1c1c1c" stroke-width="0.95"/>
<circle cx="364.0" cy="49.1" r="2.35" fill="#fff" stroke="#1c1c1c" stroke-width="0.95"/>
<circle cx="359.6" cy="51.7" r="2.35" fill="#fff" stroke="#1c1c1c" stroke-width="0.95"/>
<circle cx="374.0" cy="49.1" r="2.35" fill="#fff" stroke="#1c1c1c" stroke-width="0.95"/>
<circle cx="340.8" cy="56.7" r="2.35" fill="#fff" stroke="#1c1c1c" stroke-width="0.95"/>
<circle cx="365.6" cy="60.0" r="2.35" fill="#fff" stroke="#1c1c1c" stroke-width="0.95"/>
<circle cx="352.7" cy="62.9" r="2.35" fill="#fff" stroke="#1c1c1c" stroke-width="0.95"/>
<circle cx="340.8" cy="67.3" r="2.35" fill="#fff" stroke="#1c1c1c" stroke-width="0.95"/>
<circle cx="347.0" cy="71.7" r="2.35" fill="#fff" stroke="#1c1c1c" stroke-width="0.95"/>
<circle cx="352.1" cy="72.3" r="2.35" fill="#fff" stroke="#1c1c1c" stroke-width="0.95"/>
<circle cx="360.8" cy="74.2" r="2.35" fill="#fff" stroke="#1c1c1c" stroke-width="0.95"/>
<circle cx="365.8" cy="71.7" r="2.35" fill="#fff" stroke="#1c1c1c" stroke-width="0.95"/>
<circle cx="347.0" cy="79.8" r="2.35" fill="#fff" stroke="#1c1c1c" stroke-width="0.95"/>
<circle cx="364.6" cy="80.5" r="2.35" fill="#fff" stroke="#1c1c1c" stroke-width="0.95"/>
<circle cx="375.9" cy="77.3" r="2.35" fill="#fff" stroke="#1c1c1c" stroke-width="0.95"/>
<circle cx="384.6" cy="66.1" r="2.35" fill="#fff" stroke="#1c1c1c" stroke-width="0.95"/>
<circle cx="342.7" cy="87.6" r="2.35" fill="#fff" stroke="#1c1c1c" stroke-width="0.95"/>
<circle cx="363.3" cy="87.3" r="2.35" fill="#fff" stroke="#1c1c1c" stroke-width="0.95"/>
<circle cx="372.7" cy="81.1" r="2.35" fill="#fff" stroke="#1c1c1c" stroke-width="0.95"/>
<circle cx="387.4" cy="65.4" r="2.35" fill="#fff" stroke="#1c1c1c" stroke-width="0.95"/>
<circle cx="390.5" cy="71.3" r="2.35" fill="#fff" stroke="#1c1c1c" stroke-width="0.95"/>
<circle cx="401.0" cy="81.7" r="2.35" fill="#fff" stroke="#1c1c1c" stroke-width="0.95"/>
<circle cx="415.6" cy="83.3" r="2.35" fill="#fff" stroke="#1c1c1c" stroke-width="0.95"/>
<circle cx="425.8" cy="76.7" r="2.35" fill="#fff" stroke="#1c1c1c" stroke-width="0.95"/>
<circle cx="394.5" cy="87.1" r="2.35" fill="#fff" stroke="#1c1c1c" stroke-width="0.95"/>
<circle cx="400.1" cy="86.1" r="2.35" fill="#fff" stroke="#1c1c1c" stroke-width="0.95"/>
<circle cx="407.0" cy="87.3" r="2.35" fill="#fff" stroke="#1c1c1c" stroke-width="0.95"/>
<circle cx="404.5" cy="87.6" r="2.35" fill="#fff" stroke="#1c1c1c" stroke-width="0.95"/>
<circle cx="330.5" cy="101.3" r="2.35" fill="#fff" stroke="#1c1c1c" stroke-width="0.95"/>
<circle cx="342.7" cy="89.3" r="2.35" fill="#fff" stroke="#1c1c1c" stroke-width="0.95"/>
<circle cx="359.6" cy="98.8" r="2.35" fill="#fff" stroke="#1c1c1c" stroke-width="0.95"/>
<circle cx="355.8" cy="102.8" r="2.35" fill="#fff" stroke="#1c1c1c" stroke-width="0.95"/>
<circle cx="351.4" cy="104.0" r="2.35" fill="#fff" stroke="#1c1c1c" stroke-width="0.95"/>
<circle cx="348.9" cy="107.2" r="2.35" fill="#fff" stroke="#1c1c1c" stroke-width="0.95"/>
<circle cx="359.6" cy="103.4" r="2.35" fill="#fff" stroke="#1c1c1c" stroke-width="0.95"/>
<circle cx="359.6" cy="107.2" r="2.35" fill="#fff" stroke="#1c1c1c" stroke-width="0.95"/>
<circle cx="363.3" cy="106.5" r="2.35" fill="#fff" stroke="#1c1c1c" stroke-width="0.95"/>
<circle cx="364.6" cy="108.4" r="2.35" fill="#fff" stroke="#1c1c1c" stroke-width="0.95"/>
<circle cx="369.6" cy="110.3" r="2.35" fill="#fff" stroke="#1c1c1c" stroke-width="0.95"/>
<circle cx="374.0" cy="110.3" r="2.35" fill="#fff" stroke="#1c1c1c" stroke-width="0.95"/>
<circle cx="377.7" cy="110.9" r="2.35" fill="#fff" stroke="#1c1c1c" stroke-width="0.95"/>
<circle cx="362.7" cy="95.3" r="2.35" fill="#fff" stroke="#1c1c1c" stroke-width="0.95"/>
<circle cx="368.3" cy="95.3" r="2.35" fill="#fff" stroke="#1c1c1c" stroke-width="0.95"/>
<circle cx="386.5" cy="119.1" r="2.35" fill="#fff" stroke="#1c1c1c" stroke-width="0.95"/>
<circle cx="385.9" cy="95.9" r="2.35" fill="#fff" stroke="#1c1c1c" stroke-width="0.95"/>
<circle cx="375.9" cy="105.3" r="2.35" fill="#fff" stroke="#1c1c1c" stroke-width="0.95"/>
<circle cx="365.2" cy="89.6" r="2.35" fill="#fff" stroke="#1c1c1c" stroke-width="0.95"/>
<circle cx="388.3" cy="95.9" r="2.35" fill="#fff" stroke="#1c1c1c" stroke-width="0.95"/>
<circle cx="390.1" cy="99.7" r="2.35" fill="#fff" stroke="#1c1c1c" stroke-width="0.95"/>
<circle cx="392.6" cy="103.4" r="2.35" fill="#fff" stroke="#1c1c1c" stroke-width="0.95"/>
<circle cx="395.1" cy="98.4" r="2.35" fill="#fff" stroke="#1c1c1c" stroke-width="0.95"/>
<circle cx="402.0" cy="98.4" r="2.35" fill="#fff" stroke="#1c1c1c" stroke-width="0.95"/>
<circle cx="403.9" cy="100.9" r="2.35" fill="#fff" stroke="#1c1c1c" stroke-width="0.95"/>
<circle cx="400.8" cy="106.5" r="2.35" fill="#fff" stroke="#1c1c1c" stroke-width="0.95"/>
<circle cx="405.2" cy="107.2" r="2.35" fill="#fff" stroke="#1c1c1c" stroke-width="0.95"/>
<circle cx="405.2" cy="115.9" r="2.35" fill="#fff" stroke="#1c1c1c" stroke-width="0.95"/>
<circle cx="388.3" cy="115.3" r="2.35" fill="#fff" stroke="#1c1c1c" stroke-width="0.95"/>
<circle cx="387.0" cy="119.1" r="2.35" fill="#fff" stroke="#1c1c1c" stroke-width="0.95"/>
<circle cx="415.8" cy="96.5" r="2.35" fill="#fff" stroke="#1c1c1c" stroke-width="0.95"/>
<circle cx="415.8" cy="105.9" r="2.35" fill="#fff" stroke="#1c1c1c" stroke-width="0.95"/>
<circle cx="418.3" cy="109.0" r="2.35" fill="#fff" stroke="#1c1c1c" stroke-width="0.95"/>
<circle cx="413.3" cy="119.1" r="2.35" fill="#fff" stroke="#1c1c1c" stroke-width="0.95"/>
<circle cx="412.7" cy="113.4" r="2.35" fill="#fff" stroke="#1c1c1c" stroke-width="0.95"/>
<circle cx="425.8" cy="107.2" r="2.35" fill="#fff" stroke="#1c1c1c" stroke-width="0.95"/>
<circle cx="430.8" cy="103.4" r="2.35" fill="#fff" stroke="#1c1c1c" stroke-width="0.95"/>
<circle cx="430.2" cy="110.9" r="2.35" fill="#fff" stroke="#1c1c1c" stroke-width="0.95"/>
<circle cx="436.5" cy="108.4" r="2.35" fill="#fff" stroke="#1c1c1c" stroke-width="0.95"/>
<circle cx="430.2" cy="114.7" r="2.35" fill="#fff" stroke="#1c1c1c" stroke-width="0.95"/>
<circle cx="434.0" cy="114.1" r="2.35" fill="#fff" stroke="#1c1c1c" stroke-width="0.95"/>
<circle cx="442.1" cy="110.9" r="2.35" fill="#fff" stroke="#1c1c1c" stroke-width="0.95"/>
<circle cx="440.2" cy="115.9" r="2.35" fill="#fff" stroke="#1c1c1c" stroke-width="0.95"/>
<circle cx="444.6" cy="119.7" r="2.35" fill="#fff" stroke="#1c1c1c" stroke-width="0.95"/>
<circle cx="446.5" cy="99.0" r="2.35" fill="#fff" stroke="#1c1c1c" stroke-width="0.95"/>
<circle cx="387.6" cy="102.8" r="2.35" fill="#fff" stroke="#1c1c1c" stroke-width="0.95"/>
<circle cx="457.0" cy="103.7" r="2.35" fill="#fff" stroke="#1c1c1c" stroke-width="0.95"/>
<circle cx="460.1" cy="102.4" r="2.35" fill="#fff" stroke="#1c1c1c" stroke-width="0.95"/>
<circle cx="454.8" cy="110.3" r="2.35" fill="#fff" stroke="#1c1c1c" stroke-width="0.95"/>
<circle cx="464.5" cy="115.3" r="2.35" fill="#fff" stroke="#1c1c1c" stroke-width="0.95"/>
<circle cx="473.5" cy="112.1" r="2.35" fill="#fff" stroke="#1c1c1c" stroke-width="0.95"/>
<circle cx="496.8" cy="115.3" r="2.35" fill="#fff" stroke="#1c1c1c" stroke-width="0.95"/>
<circle cx="357.3" cy="50.0" r="2.35" fill="#999" stroke="#3a3a3a" stroke-width="0.95"/>
<circle cx="352.7" cy="52.3" r="2.35" fill="#999" stroke="#3a3a3a" stroke-width="0.95"/>
<circle cx="332.6" cy="63.8" r="2.35" fill="#999" stroke="#3a3a3a" stroke-width="0.95"/>
<circle cx="336.4" cy="62.3" r="2.35" fill="#999" stroke="#3a3a3a" stroke-width="0.95"/>
<circle cx="361.4" cy="64.8" r="2.35" fill="#999" stroke="#3a3a3a" stroke-width="0.95"/>
<circle cx="348.9" cy="75.4" r="2.35" fill="#999" stroke="#3a3a3a" stroke-width="0.95"/>
<circle cx="353.3" cy="83.6" r="2.35" fill="#999" stroke="#3a3a3a" stroke-width="0.95"/>
<circle cx="374.3" cy="82.6" r="2.35" fill="#999" stroke="#3a3a3a" stroke-width="0.95"/>
<circle cx="380.2" cy="87.1" r="2.35" fill="#999" stroke="#3a3a3a" stroke-width="0.95"/>
<circle cx="370.2" cy="87.3" r="2.35" fill="#999" stroke="#3a3a3a" stroke-width="0.95"/>
<circle cx="347.0" cy="90.3" r="2.35" fill="#999" stroke="#3a3a3a" stroke-width="0.95"/>
<circle cx="353.1" cy="96.3" r="2.35" fill="#999" stroke="#3a3a3a" stroke-width="0.95"/>
<circle cx="343.0" cy="110.0" r="2.35" fill="#999" stroke="#3a3a3a" stroke-width="0.95"/>
<circle cx="351.4" cy="109.0" r="2.35" fill="#999" stroke="#3a3a3a" stroke-width="0.95"/>
<circle cx="365.2" cy="94.6" r="2.35" fill="#999" stroke="#3a3a3a" stroke-width="0.95"/>
<circle cx="370.2" cy="100.3" r="2.35" fill="#999" stroke="#3a3a3a" stroke-width="0.95"/>
<circle cx="373.3" cy="99.0" r="2.35" fill="#999" stroke="#3a3a3a" stroke-width="0.95"/>
<circle cx="376.5" cy="95.3" r="2.35" fill="#999" stroke="#3a3a3a" stroke-width="0.95"/>
<circle cx="378.4" cy="96.5" r="2.35" fill="#999" stroke="#3a3a3a" stroke-width="0.95"/>
<circle cx="380.2" cy="105.9" r="2.35" fill="#999" stroke="#3a3a3a" stroke-width="0.95"/>
<circle cx="382.1" cy="112.2" r="2.35" fill="#999" stroke="#3a3a3a" stroke-width="0.95"/>
<circle cx="392.6" cy="91.5" r="2.35" fill="#999" stroke="#3a3a3a" stroke-width="0.95"/>
<circle cx="395.8" cy="94.6" r="2.35" fill="#999" stroke="#3a3a3a" stroke-width="0.95"/>
<circle cx="401.4" cy="101.5" r="2.35" fill="#999" stroke="#3a3a3a" stroke-width="0.95"/>
<circle cx="392.6" cy="111.6" r="2.35" fill="#999" stroke="#3a3a3a" stroke-width="0.95"/>
<circle cx="413.9" cy="110.3" r="2.35" fill="#999" stroke="#3a3a3a" stroke-width="0.95"/>
<circle cx="415.8" cy="112.2" r="2.35" fill="#999" stroke="#3a3a3a" stroke-width="0.95"/>
<circle cx="419.8" cy="103.4" r="2.35" fill="#999" stroke="#3a3a3a" stroke-width="0.95"/>
<circle cx="423.6" cy="114.1" r="2.35" fill="#999" stroke="#3a3a3a" stroke-width="0.95"/>
<circle cx="432.3" cy="97.1" r="2.35" fill="#999" stroke="#3a3a3a" stroke-width="0.95"/>
<circle cx="442.7" cy="99.7" r="2.35" fill="#999" stroke="#3a3a3a" stroke-width="0.95"/>
<circle cx="444.6" cy="99.3" r="2.35" fill="#999" stroke="#3a3a3a" stroke-width="0.95"/>
<circle cx="446.9" cy="114.7" r="2.35" fill="#999" stroke="#3a3a3a" stroke-width="0.95"/>
<circle cx="387.0" cy="107.2" r="2.35" fill="#999" stroke="#3a3a3a" stroke-width="0.95"/>
<circle cx="461.0" cy="113.3" r="2.35" fill="#999" stroke="#3a3a3a" stroke-width="0.95"/>
<circle cx="334.3" cy="42.3" r="2.7" fill="#050505"/>
<circle cx="340.5" cy="42.0" r="2.7" fill="#050505"/>
<circle cx="340.8" cy="47.5" r="2.7" fill="#050505"/>
<circle cx="340.8" cy="52.9" r="2.7" fill="#050505"/>
<circle cx="343.9" cy="53.5" r="2.7" fill="#050505"/>
<circle cx="347.7" cy="54.8" r="2.7" fill="#050505"/>
<circle cx="348.9" cy="56.7" r="2.7" fill="#050505"/>
<circle cx="345.2" cy="58.5" r="2.7" fill="#050505"/>
<circle cx="342.7" cy="62.9" r="2.7" fill="#050505"/>
<circle cx="361.4" cy="45.8" r="2.7" fill="#050505"/>
<circle cx="357.7" cy="57.3" r="2.7" fill="#050505"/>
<circle cx="367.7" cy="66.1" r="2.7" fill="#050505"/>
<circle cx="361.4" cy="69.2" r="2.7" fill="#050505"/>
<circle cx="352.7" cy="68.3" r="2.7" fill="#050505"/>
<circle cx="355.8" cy="67.9" r="2.7" fill="#050505"/>
<circle cx="351.1" cy="78.6" r="2.7" fill="#050505"/>
<circle cx="359.6" cy="83.0" r="2.7" fill="#050505"/>
<circle cx="357.1" cy="86.7" r="2.7" fill="#050505"/>
<circle cx="369.6" cy="84.2" r="2.7" fill="#050505"/>
<circle cx="367.7" cy="86.1" r="2.7" fill="#050505"/>
<circle cx="378.1" cy="54.8" r="2.7" fill="#050505"/>
<circle cx="390.5" cy="82.6" r="2.7" fill="#050505"/>
<circle cx="397.0" cy="87.3" r="2.7" fill="#050505"/>
<circle cx="353.3" cy="91.5" r="2.7" fill="#050505"/>
<circle cx="372.1" cy="94.6" r="2.7" fill="#050505"/>
<circle cx="370.2" cy="106.3" r="2.7" fill="#050505"/>
<circle cx="378.4" cy="101.5" r="2.7" fill="#050505"/>
<circle cx="382.1" cy="100.3" r="2.7" fill="#050505"/>
<circle cx="384.0" cy="108.4" r="2.7" fill="#050505"/>
<circle cx="385.9" cy="101.5" r="2.7" fill="#050505"/>
<circle cx="396.8" cy="88.8" r="2.7" fill="#050505"/>
<circle cx="392.6" cy="108.4" r="2.7" fill="#050505"/>
<circle cx="403.0" cy="114.1" r="2.7" fill="#050505"/>
<circle cx="411.4" cy="95.5" r="2.7" fill="#050505"/>
<circle cx="411.4" cy="103.4" r="2.7" fill="#050505"/>
<circle cx="421.8" cy="101.5" r="2.7" fill="#050505"/>
<circle cx="426.1" cy="96.8" r="2.7" fill="#050505"/>
<circle cx="417.3" cy="118.1" r="2.7" fill="#050505"/>
<circle cx="455.1" cy="84.9" r="2.7" fill="#050505"/>
<circle cx="481.8" cy="94.0" r="2.7" fill="#050505"/>
<circle cx="475.5" cy="108.7" r="2.7" fill="#050505"/>
<circle cx="498.6" cy="104.3" r="2.7" fill="#050505"/>
<line x1="320.30" y1="155.00" x2="320.30" y2="236.80" stroke="#1a1a1a" stroke-width="1.0"/>
<line x1="319.80" y1="236.30" x2="507.00" y2="236.30" stroke="#1a1a1a" stroke-width="1.0"/>
<line x1="318.00" y1="236.30" x2="320.30" y2="236.30" stroke="#1a1a1a" stroke-width="1.0"/>
<text x="315.20" y="238.50" font-size="9.9" text-anchor="end" font-weight="normal" fill="#111" stroke="#111" stroke-width="0.28" >0</text>
<line x1="318.00" y1="216.10" x2="320.30" y2="216.10" stroke="#1a1a1a" stroke-width="1.0"/>
<text x="315.20" y="218.30" font-size="9.9" text-anchor="end" font-weight="normal" fill="#111" stroke="#111" stroke-width="0.28" >20</text>
<line x1="318.00" y1="195.90" x2="320.30" y2="195.90" stroke="#1a1a1a" stroke-width="1.0"/>
<text x="315.20" y="198.10" font-size="9.9" text-anchor="end" font-weight="normal" fill="#111" stroke="#111" stroke-width="0.28" >40</text>
<line x1="318.00" y1="175.70" x2="320.30" y2="175.70" stroke="#1a1a1a" stroke-width="1.0"/>
<text x="315.20" y="177.90" font-size="9.9" text-anchor="end" font-weight="normal" fill="#111" stroke="#111" stroke-width="0.28" >60</text>
<line x1="318.00" y1="155.50" x2="320.30" y2="155.50" stroke="#1a1a1a" stroke-width="1.0"/>
<text x="315.20" y="157.70" font-size="9.9" text-anchor="end" font-weight="normal" fill="#111" stroke="#111" stroke-width="0.28" >80</text>
<line x1="320.30" y1="236.30" x2="320.30" y2="238.60" stroke="#1a1a1a" stroke-width="1.0"/>
<text x="320.90" y="248.50" font-size="9.9" text-anchor="middle" font-weight="normal" fill="#111" stroke="#111" stroke-width="0.28" >10</text>
<line x1="340.99" y1="236.30" x2="340.99" y2="238.60" stroke="#1a1a1a" stroke-width="1.0"/>
<text x="341.59" y="248.50" font-size="9.9" text-anchor="middle" font-weight="normal" fill="#111" stroke="#111" stroke-width="0.28" >20</text>
<line x1="361.68" y1="236.30" x2="361.68" y2="238.60" stroke="#1a1a1a" stroke-width="1.0"/>
<text x="362.28" y="248.50" font-size="9.9" text-anchor="middle" font-weight="normal" fill="#111" stroke="#111" stroke-width="0.28" >30</text>
<line x1="382.37" y1="236.30" x2="382.37" y2="238.60" stroke="#1a1a1a" stroke-width="1.0"/>
<text x="382.97" y="248.50" font-size="9.9" text-anchor="middle" font-weight="normal" fill="#111" stroke="#111" stroke-width="0.28" >40</text>
<line x1="403.06" y1="236.30" x2="403.06" y2="238.60" stroke="#1a1a1a" stroke-width="1.0"/>
<text x="403.66" y="248.50" font-size="9.9" text-anchor="middle" font-weight="normal" fill="#111" stroke="#111" stroke-width="0.28" >50</text>
<line x1="423.74" y1="236.30" x2="423.74" y2="238.60" stroke="#1a1a1a" stroke-width="1.0"/>
<text x="424.34" y="248.50" font-size="9.9" text-anchor="middle" font-weight="normal" fill="#111" stroke="#111" stroke-width="0.28" >60</text>
<line x1="444.43" y1="236.30" x2="444.43" y2="238.60" stroke="#1a1a1a" stroke-width="1.0"/>
<text x="445.03" y="248.50" font-size="9.9" text-anchor="middle" font-weight="normal" fill="#111" stroke="#111" stroke-width="0.28" >70</text>
<line x1="465.12" y1="236.30" x2="465.12" y2="238.60" stroke="#1a1a1a" stroke-width="1.0"/>
<text x="465.72" y="248.50" font-size="9.9" text-anchor="middle" font-weight="normal" fill="#111" stroke="#111" stroke-width="0.28" >80</text>
<line x1="485.81" y1="236.30" x2="485.81" y2="238.60" stroke="#1a1a1a" stroke-width="1.0"/>
<text x="486.41" y="248.50" font-size="9.9" text-anchor="middle" font-weight="normal" fill="#111" stroke="#111" stroke-width="0.28" >90</text>
<line x1="506.50" y1="236.30" x2="506.50" y2="238.60" stroke="#1a1a1a" stroke-width="1.0"/>
<text x="508.60" y="248.50" font-size="9.9" text-anchor="middle" font-weight="normal" fill="#111" stroke="#111" stroke-width="0.28" >100</text>
<circle cx="359.8" cy="152.8" r="2.35" fill="#fff" stroke="#1c1c1c" stroke-width="0.95"/>
<circle cx="335.1" cy="159.8" r="2.35" fill="#fff" stroke="#1c1c1c" stroke-width="0.95"/>
<circle cx="335.1" cy="180.1" r="2.35" fill="#fff" stroke="#1c1c1c" stroke-width="0.95"/>
<circle cx="335.1" cy="183.2" r="2.35" fill="#fff" stroke="#1c1c1c" stroke-width="0.95"/>
<circle cx="345.5" cy="186.3" r="2.35" fill="#fff" stroke="#1c1c1c" stroke-width="0.95"/>
<circle cx="331.0" cy="193.2" r="2.35" fill="#fff" stroke="#1c1c1c" stroke-width="0.95"/>
<circle cx="331.0" cy="195.7" r="2.35" fill="#fff" stroke="#1c1c1c" stroke-width="0.95"/>
<circle cx="359.3" cy="180.1" r="2.35" fill="#fff" stroke="#1c1c1c" stroke-width="0.95"/>
<circle cx="364.0" cy="183.2" r="2.35" fill="#fff" stroke="#1c1c1c" stroke-width="0.95"/>
<circle cx="368.3" cy="185.1" r="2.35" fill="#fff" stroke="#1c1c1c" stroke-width="0.95"/>
<circle cx="366.5" cy="187.3" r="2.35" fill="#fff" stroke="#1c1c1c" stroke-width="0.95"/>
<circle cx="365.2" cy="189.8" r="2.35" fill="#fff" stroke="#1c1c1c" stroke-width="0.95"/>
<circle cx="358.1" cy="187.3" r="2.35" fill="#fff" stroke="#1c1c1c" stroke-width="0.95"/>
<circle cx="353.9" cy="191.3" r="2.35" fill="#fff" stroke="#1c1c1c" stroke-width="0.95"/>
<circle cx="351.8" cy="194.1" r="2.35" fill="#fff" stroke="#1c1c1c" stroke-width="0.95"/>
<circle cx="347.7" cy="197.3" r="2.35" fill="#fff" stroke="#1c1c1c" stroke-width="0.95"/>
<circle cx="347.7" cy="200.7" r="2.35" fill="#fff" stroke="#1c1c1c" stroke-width="0.95"/>
<circle cx="341.4" cy="200.7" r="2.35" fill="#fff" stroke="#1c1c1c" stroke-width="0.95"/>
<circle cx="358.1" cy="198.6" r="2.35" fill="#fff" stroke="#1c1c1c" stroke-width="0.95"/>
<circle cx="374.3" cy="176.9" r="2.35" fill="#fff" stroke="#1c1c1c" stroke-width="0.95"/>
<circle cx="382.7" cy="178.2" r="2.35" fill="#fff" stroke="#1c1c1c" stroke-width="0.95"/>
<circle cx="385.2" cy="183.2" r="2.35" fill="#fff" stroke="#1c1c1c" stroke-width="0.95"/>
<circle cx="372.3" cy="194.5" r="2.35" fill="#fff" stroke="#1c1c1c" stroke-width="0.95"/>
<circle cx="382.7" cy="197.3" r="2.35" fill="#fff" stroke="#1c1c1c" stroke-width="0.95"/>
<circle cx="370.2" cy="198.6" r="2.35" fill="#fff" stroke="#1c1c1c" stroke-width="0.95"/>
<circle cx="365.8" cy="200.7" r="2.35" fill="#fff" stroke="#1c1c1c" stroke-width="0.95"/>
<circle cx="378.4" cy="199.5" r="2.35" fill="#fff" stroke="#1c1c1c" stroke-width="0.95"/>
<circle cx="374.0" cy="201.1" r="2.35" fill="#fff" stroke="#1c1c1c" stroke-width="0.95"/>
<circle cx="413.5" cy="179.4" r="2.35" fill="#fff" stroke="#1c1c1c" stroke-width="0.95"/>
<circle cx="397.3" cy="191.3" r="2.35" fill="#fff" stroke="#1c1c1c" stroke-width="0.95"/>
<circle cx="391.0" cy="195.3" r="2.35" fill="#fff" stroke="#1c1c1c" stroke-width="0.95"/>
<circle cx="390.8" cy="201.6" r="2.35" fill="#fff" stroke="#1c1c1c" stroke-width="0.95"/>
<circle cx="417.7" cy="202.3" r="2.35" fill="#fff" stroke="#1c1c1c" stroke-width="0.95"/>
<circle cx="459.3" cy="179.4" r="2.35" fill="#fff" stroke="#1c1c1c" stroke-width="0.95"/>
<circle cx="338.9" cy="203.6" r="2.35" fill="#fff" stroke="#1c1c1c" stroke-width="0.95"/>
<circle cx="343.5" cy="212.4" r="2.35" fill="#fff" stroke="#1c1c1c" stroke-width="0.95"/>
<circle cx="347.7" cy="210.5" r="2.35" fill="#fff" stroke="#1c1c1c" stroke-width="0.95"/>
<circle cx="351.4" cy="207.4" r="2.35" fill="#fff" stroke="#1c1c1c" stroke-width="0.95"/>
<circle cx="355.8" cy="208.6" r="2.35" fill="#fff" stroke="#1c1c1c" stroke-width="0.95"/>
<circle cx="353.3" cy="211.8" r="2.35" fill="#fff" stroke="#1c1c1c" stroke-width="0.95"/>
<circle cx="360.2" cy="206.1" r="2.35" fill="#fff" stroke="#1c1c1c" stroke-width="0.95"/>
<circle cx="360.2" cy="209.9" r="2.35" fill="#fff" stroke="#1c1c1c" stroke-width="0.95"/>
<circle cx="366.5" cy="205.5" r="2.35" fill="#fff" stroke="#1c1c1c" stroke-width="0.95"/>
<circle cx="370.2" cy="206.1" r="2.35" fill="#fff" stroke="#1c1c1c" stroke-width="0.95"/>
<circle cx="366.5" cy="209.3" r="2.35" fill="#fff" stroke="#1c1c1c" stroke-width="0.95"/>
<circle cx="370.2" cy="210.5" r="2.35" fill="#fff" stroke="#1c1c1c" stroke-width="0.95"/>
<circle cx="362.7" cy="213.7" r="2.35" fill="#fff" stroke="#1c1c1c" stroke-width="0.95"/>
<circle cx="359.6" cy="214.3" r="2.35" fill="#fff" stroke="#1c1c1c" stroke-width="0.95"/>
<circle cx="366.5" cy="216.2" r="2.35" fill="#fff" stroke="#1c1c1c" stroke-width="0.95"/>
<circle cx="370.2" cy="213.7" r="2.35" fill="#fff" stroke="#1c1c1c" stroke-width="0.95"/>
<circle cx="362.1" cy="218.7" r="2.35" fill="#fff" stroke="#1c1c1c" stroke-width="0.95"/>
<circle cx="358.3" cy="219.9" r="2.35" fill="#fff" stroke="#1c1c1c" stroke-width="0.95"/>
<circle cx="352.1" cy="219.9" r="2.35" fill="#fff" stroke="#1c1c1c" stroke-width="0.95"/>
<circle cx="340.8" cy="218.0" r="2.35" fill="#fff" stroke="#1c1c1c" stroke-width="0.95"/>
<circle cx="359.6" cy="223.7" r="2.35" fill="#fff" stroke="#1c1c1c" stroke-width="0.95"/>
<circle cx="365.2" cy="225.6" r="2.35" fill="#fff" stroke="#1c1c1c" stroke-width="0.95"/>
<circle cx="382.7" cy="218.0" r="2.35" fill="#fff" stroke="#1c1c1c" stroke-width="0.95"/>
<circle cx="384.6" cy="203.6" r="2.35" fill="#fff" stroke="#1c1c1c" stroke-width="0.95"/>
<circle cx="376.5" cy="203.0" r="2.35" fill="#fff" stroke="#1c1c1c" stroke-width="0.95"/>
<circle cx="379.0" cy="226.2" r="2.35" fill="#fff" stroke="#1c1c1c" stroke-width="0.95"/>
<circle cx="383.4" cy="224.9" r="2.35" fill="#fff" stroke="#1c1c1c" stroke-width="0.95"/>
<circle cx="385.2" cy="227.4" r="2.35" fill="#fff" stroke="#1c1c1c" stroke-width="0.95"/>
<circle cx="355.8" cy="215.5" r="2.35" fill="#fff" stroke="#1c1c1c" stroke-width="0.95"/>
<circle cx="391.4" cy="201.8" r="2.35" fill="#fff" stroke="#1c1c1c" stroke-width="0.95"/>
<circle cx="388.9" cy="208.6" r="2.35" fill="#fff" stroke="#1c1c1c" stroke-width="0.95"/>
<circle cx="388.9" cy="216.8" r="2.35" fill="#fff" stroke="#1c1c1c" stroke-width="0.95"/>
<circle cx="392.0" cy="219.3" r="2.35" fill="#fff" stroke="#1c1c1c" stroke-width="0.95"/>
<circle cx="387.0" cy="226.2" r="2.35" fill="#fff" stroke="#1c1c1c" stroke-width="0.95"/>
<circle cx="401.4" cy="207.4" r="2.35" fill="#fff" stroke="#1c1c1c" stroke-width="0.95"/>
<circle cx="405.8" cy="204.3" r="2.35" fill="#fff" stroke="#1c1c1c" stroke-width="0.95"/>
<circle cx="405.8" cy="208.0" r="2.35" fill="#fff" stroke="#1c1c1c" stroke-width="0.95"/>
<circle cx="408.3" cy="209.3" r="2.35" fill="#fff" stroke="#1c1c1c" stroke-width="0.95"/>
<circle cx="405.2" cy="211.8" r="2.35" fill="#fff" stroke="#1c1c1c" stroke-width="0.95"/>
<circle cx="402.0" cy="214.3" r="2.35" fill="#fff" stroke="#1c1c1c" stroke-width="0.95"/>
<circle cx="403.9" cy="218.0" r="2.35" fill="#fff" stroke="#1c1c1c" stroke-width="0.95"/>
<circle cx="405.8" cy="219.9" r="2.35" fill="#fff" stroke="#1c1c1c" stroke-width="0.95"/>
<circle cx="401.4" cy="221.2" r="2.35" fill="#fff" stroke="#1c1c1c" stroke-width="0.95"/>
<circle cx="402.0" cy="224.9" r="2.35" fill="#fff" stroke="#1c1c1c" stroke-width="0.95"/>
<circle cx="398.9" cy="227.4" r="2.35" fill="#fff" stroke="#1c1c1c" stroke-width="0.95"/>
<circle cx="413.9" cy="205.8" r="2.35" fill="#fff" stroke="#1c1c1c" stroke-width="0.95"/>
<circle cx="417.7" cy="203.0" r="2.35" fill="#fff" stroke="#1c1c1c" stroke-width="0.95"/>
<circle cx="415.8" cy="214.3" r="2.35" fill="#fff" stroke="#1c1c1c" stroke-width="0.95"/>
<circle cx="418.3" cy="216.8" r="2.35" fill="#fff" stroke="#1c1c1c" stroke-width="0.95"/>
<circle cx="415.8" cy="221.2" r="2.35" fill="#fff" stroke="#1c1c1c" stroke-width="0.95"/>
<circle cx="430.2" cy="211.1" r="2.35" fill="#fff" stroke="#1c1c1c" stroke-width="0.95"/>
<circle cx="432.3" cy="213.3" r="2.35" fill="#fff" stroke="#1c1c1c" stroke-width="0.95"/>
<circle cx="426.1" cy="227.8" r="2.35" fill="#fff" stroke="#1c1c1c" stroke-width="0.95"/>
<circle cx="434.0" cy="227.8" r="2.35" fill="#fff" stroke="#1c1c1c" stroke-width="0.95"/>
<circle cx="437.1" cy="228.7" r="2.35" fill="#fff" stroke="#1c1c1c" stroke-width="0.95"/>
<circle cx="440.9" cy="229.9" r="2.35" fill="#fff" stroke="#1c1c1c" stroke-width="0.95"/>
<circle cx="442.7" cy="223.7" r="2.35" fill="#fff" stroke="#1c1c1c" stroke-width="0.95"/>
<circle cx="447.1" cy="219.9" r="2.35" fill="#fff" stroke="#1c1c1c" stroke-width="0.95"/>
<circle cx="447.1" cy="223.7" r="2.35" fill="#fff" stroke="#1c1c1c" stroke-width="0.95"/>
<circle cx="430.8" cy="234.3" r="2.35" fill="#fff" stroke="#1c1c1c" stroke-width="0.95"/>
<circle cx="455.1" cy="219.9" r="2.35" fill="#fff" stroke="#1c1c1c" stroke-width="0.95"/>
<circle cx="460.1" cy="228.1" r="2.35" fill="#fff" stroke="#1c1c1c" stroke-width="0.95"/>
<circle cx="458.9" cy="234.3" r="2.35" fill="#fff" stroke="#1c1c1c" stroke-width="0.95"/>
<circle cx="462.0" cy="234.3" r="2.35" fill="#fff" stroke="#1c1c1c" stroke-width="0.95"/>
<circle cx="473.3" cy="234.3" r="2.35" fill="#fff" stroke="#1c1c1c" stroke-width="0.95"/>
<circle cx="495.8" cy="234.3" r="2.35" fill="#fff" stroke="#1c1c1c" stroke-width="0.95"/>
<circle cx="358.1" cy="195.3" r="2.35" fill="#999" stroke="#3a3a3a" stroke-width="0.95"/>
<circle cx="380.9" cy="201.3" r="2.35" fill="#999" stroke="#3a3a3a" stroke-width="0.95"/>
<circle cx="374.6" cy="206.1" r="2.35" fill="#999" stroke="#3a3a3a" stroke-width="0.95"/>
<circle cx="374.6" cy="210.5" r="2.35" fill="#999" stroke="#3a3a3a" stroke-width="0.95"/>
<circle cx="370.2" cy="221.2" r="2.35" fill="#999" stroke="#3a3a3a" stroke-width="0.95"/>
<circle cx="333.3" cy="226.8" r="2.35" fill="#999" stroke="#3a3a3a" stroke-width="0.95"/>
<circle cx="349.3" cy="223.7" r="2.35" fill="#999" stroke="#3a3a3a" stroke-width="0.95"/>
<circle cx="380.2" cy="226.8" r="2.35" fill="#999" stroke="#3a3a3a" stroke-width="0.95"/>
<circle cx="380.9" cy="201.8" r="2.35" fill="#999" stroke="#3a3a3a" stroke-width="0.95"/>
<circle cx="376.5" cy="231.2" r="2.35" fill="#999" stroke="#3a3a3a" stroke-width="0.95"/>
<circle cx="362.7" cy="228.7" r="2.35" fill="#999" stroke="#3a3a3a" stroke-width="0.95"/>
<circle cx="395.1" cy="214.3" r="2.35" fill="#999" stroke="#3a3a3a" stroke-width="0.95"/>
<circle cx="413.5" cy="227.1" r="2.35" fill="#999" stroke="#3a3a3a" stroke-width="0.95"/>
<circle cx="401.4" cy="229.3" r="2.35" fill="#999" stroke="#3a3a3a" stroke-width="0.95"/>
<circle cx="444.6" cy="225.6" r="2.35" fill="#999" stroke="#3a3a3a" stroke-width="0.95"/>
<circle cx="432.3" cy="234.1" r="2.35" fill="#999" stroke="#3a3a3a" stroke-width="0.95"/>
<circle cx="442.7" cy="234.1" r="2.35" fill="#999" stroke="#3a3a3a" stroke-width="0.95"/>
<circle cx="447.1" cy="234.1" r="2.35" fill="#999" stroke="#3a3a3a" stroke-width="0.95"/>
<circle cx="387.0" cy="234.1" r="2.35" fill="#999" stroke="#3a3a3a" stroke-width="0.95"/>
<circle cx="461.0" cy="234.3" r="2.35" fill="#999" stroke="#3a3a3a" stroke-width="0.95"/>
<circle cx="341.4" cy="195.3" r="2.7" fill="#050505"/>
<circle cx="345.2" cy="218.7" r="2.7" fill="#050505"/>
<circle cx="341.4" cy="223.7" r="2.7" fill="#050505"/>
<circle cx="343.9" cy="223.0" r="2.7" fill="#050505"/>
<circle cx="347.0" cy="228.7" r="2.7" fill="#050505"/>
<circle cx="350.8" cy="229.3" r="2.7" fill="#050505"/>
<circle cx="353.9" cy="229.3" r="2.7" fill="#050505"/>
<circle cx="369.6" cy="229.3" r="2.7" fill="#050505"/>
<circle cx="367.7" cy="231.2" r="2.7" fill="#050505"/>
<circle cx="335.1" cy="234.1" r="2.7" fill="#050505"/>
<circle cx="341.4" cy="234.1" r="2.7" fill="#050505"/>
<circle cx="343.9" cy="234.1" r="2.7" fill="#050505"/>
<circle cx="349.6" cy="234.1" r="2.7" fill="#050505"/>
<circle cx="352.7" cy="234.1" r="2.7" fill="#050505"/>
<circle cx="355.8" cy="233.7" r="2.7" fill="#050505"/>
<circle cx="359.6" cy="233.7" r="2.7" fill="#050505"/>
<circle cx="362.1" cy="234.1" r="2.7" fill="#050505"/>
<circle cx="369.0" cy="234.1" r="2.7" fill="#050505"/>
<circle cx="372.1" cy="234.1" r="2.7" fill="#050505"/>
<circle cx="379.0" cy="234.1" r="2.7" fill="#050505"/>
<circle cx="382.7" cy="234.1" r="2.7" fill="#050505"/>
<circle cx="385.9" cy="234.1" r="2.7" fill="#050505"/>
<circle cx="358.3" cy="231.2" r="2.7" fill="#050505"/>
<circle cx="353.9" cy="231.8" r="2.7" fill="#050505"/>
<circle cx="350.2" cy="231.8" r="2.7" fill="#050505"/>
<circle cx="392.6" cy="231.2" r="2.7" fill="#050505"/>
<circle cx="390.8" cy="234.1" r="2.7" fill="#050505"/>
<circle cx="393.9" cy="234.1" r="2.7" fill="#050505"/>
<circle cx="397.0" cy="234.1" r="2.7" fill="#050505"/>
<circle cx="403.3" cy="234.1" r="2.7" fill="#050505"/>
<circle cx="412.0" cy="234.1" r="2.7" fill="#050505"/>
<circle cx="417.1" cy="234.1" r="2.7" fill="#050505"/>
<circle cx="420.2" cy="234.1" r="2.7" fill="#050505"/>
<circle cx="423.3" cy="234.1" r="2.7" fill="#050505"/>
<circle cx="426.4" cy="234.1" r="2.7" fill="#050505"/>
<circle cx="455.1" cy="234.3" r="2.7" fill="#050505"/>
<circle cx="475.8" cy="234.3" r="2.7" fill="#050505"/>
<circle cx="481.8" cy="234.3" r="2.7" fill="#050505"/>
<circle cx="498.3" cy="234.3" r="2.7" fill="#050505"/>
<text transform="translate(12.80,74.70) rotate(-90)" font-size="13" text-anchor="middle" fill="#111" stroke="#111" stroke-width="0.28" >Rolling fraction (%)</text>
<text transform="translate(12.80,194.40) rotate(-90)" font-size="13" text-anchor="middle" fill="#111" stroke="#111" stroke-width="0.28" >Sticking fraction (%)</text>
<text transform="translate(290.30,74.80) rotate(-90)" font-size="13" text-anchor="middle" fill="#111" stroke="#111" stroke-width="0.28" >Rolling fraction (%)</text>
<text transform="translate(290.30,196.60) rotate(-90)" font-size="13" text-anchor="middle" fill="#111" stroke="#111" stroke-width="0.28" >Sticking fraction (%)</text>
<text transform="translate(11.10,348.60) rotate(-90)" font-size="13" text-anchor="middle" fill="#111" stroke="#111" stroke-width="0.28" >Sticking fraction (%)</text>
<text transform="translate(290.80,355.00) rotate(-90)" font-size="13" text-anchor="middle" fill="#111" stroke="#111" stroke-width="0.28" >Sticking fraction (%)</text>
<text x="135.40" y="267.90" font-size="12.9" text-anchor="middle" font-weight="normal" fill="#111" stroke="#111" stroke-width="0.28" >Vessel diameter (<tspan font-style="italic">μ</tspan>m)</text>
<text x="414.80" y="267.90" font-size="12.9" text-anchor="middle" font-weight="normal" fill="#111" stroke="#111" stroke-width="0.28" >Vessel diameter (<tspan font-style="italic">μ</tspan>m)</text>
<circle cx="167.0" cy="31.0" r="2.35" fill="#fff" stroke="#1c1c1c" stroke-width="0.95"/>
<text x="174.60" y="35.20" font-size="12.5" text-anchor="start" font-weight="normal" fill="#111" stroke="#111" stroke-width="0.28" >WT</text>
<circle cx="167.0" cy="42.9" r="2.35" fill="#999" stroke="#3a3a3a" stroke-width="0.95"/>
<text x="174.60" y="47.30" font-size="12.5" text-anchor="start" font-weight="normal" fill="#111" stroke="#111" stroke-width="0.28" textLength="63.0" lengthAdjust="spacingAndGlyphs">+α-ICAM-2</text>
<circle cx="167.0" cy="54.7" r="2.7" fill="#050505"/>
<text x="174.60" y="59.10" font-size="12.5" text-anchor="start" font-weight="normal" fill="#111" stroke="#111" stroke-width="0.28" textLength="61.6" lengthAdjust="spacingAndGlyphs">+α-ICAM-1</text>
<circle cx="453.7" cy="25.8" r="2.35" fill="#fff" stroke="#1c1c1c" stroke-width="0.95"/>
<text x="461.20" y="29.50" font-size="12.5" text-anchor="start" font-weight="normal" fill="#111" stroke="#111" stroke-width="0.28" textLength="19.2" lengthAdjust="spacingAndGlyphs">WT</text>
<circle cx="453.7" cy="38.7" r="2.35" fill="#999" stroke="#3a3a3a" stroke-width="0.95"/>
<text x="461.20" y="42.80" font-size="12.5" text-anchor="start" font-weight="normal" fill="#111" stroke="#111" stroke-width="0.28" textLength="42.2" lengthAdjust="spacingAndGlyphs">ICAM-1</text>
<circle cx="453.7" cy="51.3" r="2.7" fill="#050505"/>
<text x="461.20" y="56.20" font-size="12.5" text-anchor="start" font-weight="normal" fill="#111" stroke="#111" stroke-width="0.28" textLength="53.5" lengthAdjust="spacingAndGlyphs">ICAM-1/2</text>
<text x="505.20" y="38.40" font-size="5.5" text-anchor="start" font-weight="normal" fill="#444" stroke="#444" stroke-width="0.1" >-/-</text>
<text x="517.20" y="51.80" font-size="5.5" text-anchor="start" font-weight="normal" fill="#444" stroke="#444" stroke-width="0.1" >-/-</text>
<line x1="37.10" y1="313.20" x2="37.10" y2="399.20" stroke="#1a1a1a" stroke-width="1.1"/>
<line x1="35.10" y1="398.60" x2="223.10" y2="398.60" stroke="#1a1a1a" stroke-width="1.2"/>
<line x1="34.90" y1="398.60" x2="37.10" y2="398.60" stroke="#1a1a1a" stroke-width="1.0"/>
<text x="33.50" y="400.50" font-size="9.8" text-anchor="end" font-weight="normal" fill="#111" stroke="#111" stroke-width="0.28" letter-spacing="0.5">0</text>
<line x1="35.50" y1="387.99" x2="37.10" y2="387.99" stroke="#1a1a1a" stroke-width="1.0"/>
<line x1="34.90" y1="377.38" x2="37.10" y2="377.38" stroke="#1a1a1a" stroke-width="1.0"/>
<text x="33.50" y="379.28" font-size="9.8" text-anchor="end" font-weight="normal" fill="#111" stroke="#111" stroke-width="0.28" letter-spacing="0.5">20</text>
<line x1="35.50" y1="366.77" x2="37.10" y2="366.77" stroke="#1a1a1a" stroke-width="1.0"/>
<line x1="34.90" y1="356.16" x2="37.10" y2="356.16" stroke="#1a1a1a" stroke-width="1.0"/>
<text x="33.50" y="358.06" font-size="9.8" text-anchor="end" font-weight="normal" fill="#111" stroke="#111" stroke-width="0.28" letter-spacing="0.5">40</text>
<line x1="35.50" y1="345.55" x2="37.10" y2="345.55" stroke="#1a1a1a" stroke-width="1.0"/>
<line x1="34.90" y1="334.94" x2="37.10" y2="334.94" stroke="#1a1a1a" stroke-width="1.0"/>
<text x="33.50" y="336.84" font-size="9.8" text-anchor="end" font-weight="normal" fill="#111" stroke="#111" stroke-width="0.28" letter-spacing="0.5">60</text>
<line x1="35.50" y1="324.33" x2="37.10" y2="324.33" stroke="#1a1a1a" stroke-width="1.0"/>
<line x1="34.90" y1="313.72" x2="37.10" y2="313.72" stroke="#1a1a1a" stroke-width="1.0"/>
<text x="33.50" y="315.62" font-size="9.8" text-anchor="end" font-weight="normal" fill="#111" stroke="#111" stroke-width="0.28" letter-spacing="0.5">80</text>
<line x1="317.80" y1="314.10" x2="317.80" y2="400.40" stroke="#1a1a1a" stroke-width="1.1"/>
<line x1="315.80" y1="399.80" x2="501.20" y2="399.80" stroke="#1a1a1a" stroke-width="1.2"/>
<line x1="315.60" y1="399.80" x2="317.80" y2="399.80" stroke="#1a1a1a" stroke-width="1.0"/>
<text x="313.00" y="401.70" font-size="9.8" text-anchor="end" font-weight="normal" fill="#111" stroke="#111" stroke-width="0.28" letter-spacing="0.5">0</text>
<line x1="316.20" y1="389.15" x2="317.80" y2="389.15" stroke="#1a1a1a" stroke-width="1.0"/>
<line x1="315.60" y1="378.50" x2="317.80" y2="378.50" stroke="#1a1a1a" stroke-width="1.0"/>
<text x="313.00" y="380.40" font-size="9.8" text-anchor="end" font-weight="normal" fill="#111" stroke="#111" stroke-width="0.28" letter-spacing="0.5">20</text>
<line x1="316.20" y1="367.85" x2="317.80" y2="367.85" stroke="#1a1a1a" stroke-width="1.0"/>
<line x1="315.60" y1="357.20" x2="317.80" y2="357.20" stroke="#1a1a1a" stroke-width="1.0"/>
<text x="313.00" y="359.10" font-size="9.8" text-anchor="end" font-weight="normal" fill="#111" stroke="#111" stroke-width="0.28" letter-spacing="0.5">40</text>
<line x1="316.20" y1="346.55" x2="317.80" y2="346.55" stroke="#1a1a1a" stroke-width="1.0"/>
<line x1="315.60" y1="335.90" x2="317.80" y2="335.90" stroke="#1a1a1a" stroke-width="1.0"/>
<text x="313.00" y="337.80" font-size="9.8" text-anchor="end" font-weight="normal" fill="#111" stroke="#111" stroke-width="0.28" letter-spacing="0.5">60</text>
<line x1="316.20" y1="325.25" x2="317.80" y2="325.25" stroke="#1a1a1a" stroke-width="1.0"/>
<line x1="315.60" y1="314.60" x2="317.80" y2="314.60" stroke="#1a1a1a" stroke-width="1.0"/>
<text x="313.00" y="316.50" font-size="9.8" text-anchor="end" font-weight="normal" fill="#111" stroke="#111" stroke-width="0.28" letter-spacing="0.5">80</text>
<circle cx="69.2" cy="320.0" r="2.6" fill="#050505"/>
<circle cx="54.5" cy="339.7" r="2.6" fill="#050505"/>
<circle cx="61.7" cy="340.5" r="2.6" fill="#050505"/>
<circle cx="65.7" cy="337.2" r="2.6" fill="#050505"/>
<circle cx="73.2" cy="338.4" r="2.6" fill="#050505"/>
<circle cx="84.2" cy="340.5" r="2.6" fill="#050505"/>
<circle cx="69.4" cy="343.8" r="2.6" fill="#050505"/>
<circle cx="76.7" cy="343.4" r="2.6" fill="#050505"/>
<circle cx="54.5" cy="347.2" r="2.6" fill="#050505"/>
<circle cx="61.7" cy="349.1" r="2.6" fill="#050505"/>
<circle cx="76.7" cy="347.8" r="2.6" fill="#050505"/>
<circle cx="69.4" cy="351.8" r="2.6" fill="#050505"/>
<circle cx="54.5" cy="356.3" r="2.6" fill="#050505"/>
<circle cx="58.3" cy="354.1" r="2.6" fill="#050505"/>
<circle cx="65.7" cy="355.1" r="2.6" fill="#050505"/>
<circle cx="73.2" cy="356.3" r="2.6" fill="#050505"/>
<circle cx="80.5" cy="354.7" r="2.6" fill="#050505"/>
<circle cx="84.2" cy="358.1" r="2.6" fill="#050505"/>
<circle cx="52.3" cy="362.2" r="2.6" fill="#050505"/>
<circle cx="61.7" cy="360.3" r="2.6" fill="#050505"/>
<circle cx="69.4" cy="361.3" r="2.6" fill="#050505"/>
<circle cx="76.7" cy="361.3" r="2.6" fill="#050505"/>
<circle cx="52.3" cy="362.5" r="2.6" fill="#050505"/>
<circle cx="59.8" cy="362.5" r="2.6" fill="#050505"/>
<circle cx="69.2" cy="362.5" r="2.6" fill="#050505"/>
<circle cx="78.6" cy="362.5" r="2.6" fill="#050505"/>
<circle cx="86.1" cy="362.5" r="2.6" fill="#050505"/>
<circle cx="56.0" cy="365.6" r="2.6" fill="#050505"/>
<circle cx="63.6" cy="365.6" r="2.6" fill="#050505"/>
<circle cx="74.8" cy="365.6" r="2.6" fill="#050505"/>
<circle cx="82.3" cy="365.6" r="2.6" fill="#050505"/>
<circle cx="86.7" cy="365.6" r="2.6" fill="#050505"/>
<circle cx="54.2" cy="368.8" r="2.6" fill="#050505"/>
<circle cx="59.8" cy="368.8" r="2.6" fill="#050505"/>
<circle cx="67.3" cy="368.8" r="2.6" fill="#050505"/>
<circle cx="71.1" cy="368.8" r="2.6" fill="#050505"/>
<circle cx="78.6" cy="368.8" r="2.6" fill="#050505"/>
<circle cx="84.2" cy="368.8" r="2.6" fill="#050505"/>
<circle cx="57.9" cy="372.5" r="2.6" fill="#050505"/>
<circle cx="65.4" cy="372.5" r="2.6" fill="#050505"/>
<circle cx="72.9" cy="372.5" r="2.6" fill="#050505"/>
<circle cx="80.5" cy="372.5" r="2.6" fill="#050505"/>
<circle cx="54.8" cy="375.7" r="2.6" fill="#050505"/>
<circle cx="61.7" cy="375.7" r="2.6" fill="#050505"/>
<circle cx="69.2" cy="375.7" r="2.6" fill="#050505"/>
<circle cx="76.7" cy="375.7" r="2.6" fill="#050505"/>
<circle cx="84.2" cy="375.7" r="2.6" fill="#050505"/>
<circle cx="52.3" cy="379.4" r="2.6" fill="#050505"/>
<circle cx="58.5" cy="379.4" r="2.6" fill="#050505"/>
<circle cx="65.4" cy="379.4" r="2.6" fill="#050505"/>
<circle cx="72.9" cy="379.4" r="2.6" fill="#050505"/>
<circle cx="79.8" cy="379.4" r="2.6" fill="#050505"/>
<circle cx="86.1" cy="379.4" r="2.6" fill="#050505"/>
<circle cx="56.0" cy="382.5" r="2.6" fill="#050505"/>
<circle cx="62.3" cy="382.5" r="2.6" fill="#050505"/>
<circle cx="69.2" cy="382.5" r="2.6" fill="#050505"/>
<circle cx="76.1" cy="382.5" r="2.6" fill="#050505"/>
<circle cx="83.0" cy="382.5" r="2.6" fill="#050505"/>
<circle cx="87.3" cy="382.5" r="2.6" fill="#050505"/>
<circle cx="53.5" cy="385.7" r="2.6" fill="#050505"/>
<circle cx="59.8" cy="385.7" r="2.6" fill="#050505"/>
<circle cx="66.7" cy="385.7" r="2.6" fill="#050505"/>
<circle cx="71.7" cy="385.7" r="2.6" fill="#050505"/>
<circle cx="78.6" cy="385.7" r="2.6" fill="#050505"/>
<circle cx="84.8" cy="385.7" r="2.6" fill="#050505"/>
<circle cx="57.9" cy="389.4" r="2.6" fill="#050505"/>
<circle cx="64.2" cy="389.4" r="2.6" fill="#050505"/>
<circle cx="69.2" cy="389.4" r="2.6" fill="#050505"/>
<circle cx="74.2" cy="389.4" r="2.6" fill="#050505"/>
<circle cx="80.5" cy="389.4" r="2.6" fill="#050505"/>
<circle cx="86.1" cy="389.4" r="2.6" fill="#050505"/>
<circle cx="56.0" cy="392.6" r="2.6" fill="#050505"/>
<circle cx="61.0" cy="392.6" r="2.6" fill="#050505"/>
<circle cx="67.3" cy="392.6" r="2.6" fill="#050505"/>
<circle cx="71.1" cy="392.6" r="2.6" fill="#050505"/>
<circle cx="77.3" cy="392.6" r="2.6" fill="#050505"/>
<circle cx="82.3" cy="392.6" r="2.6" fill="#050505"/>
<circle cx="54.2" cy="396.3" r="2.6" fill="#050505"/>
<circle cx="61.7" cy="396.3" r="2.6" fill="#050505"/>
<circle cx="65.4" cy="396.3" r="2.6" fill="#050505"/>
<circle cx="69.2" cy="396.3" r="2.6" fill="#050505"/>
<circle cx="72.9" cy="396.3" r="2.6" fill="#050505"/>
<circle cx="76.7" cy="396.3" r="2.6" fill="#050505"/>
<circle cx="84.2" cy="396.3" r="2.6" fill="#050505"/>
<circle cx="130.9" cy="314.1" r="2.6" fill="#050505"/>
<circle cx="138.5" cy="362.5" r="2.6" fill="#050505"/>
<circle cx="130.9" cy="368.8" r="2.6" fill="#050505"/>
<circle cx="130.9" cy="386.6" r="2.6" fill="#050505"/>
<circle cx="130.9" cy="395.7" r="2.6" fill="#050505"/>
<circle cx="192.6" cy="344.0" r="2.6" fill="#050505"/>
<circle cx="200.1" cy="364.5" r="2.6" fill="#050505"/>
<circle cx="185.0" cy="370.0" r="2.6" fill="#050505"/>
<circle cx="192.6" cy="370.0" r="2.6" fill="#050505"/>
<circle cx="207.6" cy="375.0" r="2.6" fill="#050505"/>
<circle cx="185.0" cy="377.0" r="2.6" fill="#050505"/>
<circle cx="200.2" cy="377.8" r="2.6" fill="#050505"/>
<circle cx="192.3" cy="379.0" r="2.6" fill="#050505"/>
<circle cx="175.9" cy="380.8" r="2.6" fill="#050505"/>
<circle cx="209.5" cy="382.1" r="2.6" fill="#050505"/>
<circle cx="182.9" cy="382.1" r="2.6" fill="#050505"/>
<circle cx="202.1" cy="382.1" r="2.6" fill="#050505"/>
<circle cx="176.7" cy="385.0" r="2.6" fill="#050505"/>
<circle cx="176.7" cy="387.5" r="2.6" fill="#050505"/>
<circle cx="176.7" cy="390.0" r="2.6" fill="#050505"/>
<circle cx="176.7" cy="393.0" r="2.6" fill="#050505"/>
<circle cx="184.5" cy="385.0" r="2.6" fill="#050505"/>
<circle cx="184.5" cy="387.5" r="2.6" fill="#050505"/>
<circle cx="184.5" cy="390.0" r="2.6" fill="#050505"/>
<circle cx="184.5" cy="393.0" r="2.6" fill="#050505"/>
<circle cx="192.3" cy="385.0" r="2.6" fill="#050505"/>
<circle cx="192.3" cy="387.5" r="2.6" fill="#050505"/>
<circle cx="192.3" cy="390.0" r="2.6" fill="#050505"/>
<circle cx="192.3" cy="393.0" r="2.6" fill="#050505"/>
<circle cx="200.5" cy="385.0" r="2.6" fill="#050505"/>
<circle cx="200.5" cy="387.5" r="2.6" fill="#050505"/>
<circle cx="200.5" cy="390.0" r="2.6" fill="#050505"/>
<circle cx="200.5" cy="393.0" r="2.6" fill="#050505"/>
<circle cx="208.8" cy="385.0" r="2.6" fill="#050505"/>
<circle cx="208.8" cy="387.5" r="2.6" fill="#050505"/>
<circle cx="208.8" cy="390.0" r="2.6" fill="#050505"/>
<circle cx="208.8" cy="393.0" r="2.6" fill="#050505"/>
<circle cx="180.3" cy="384.6" r="2.6" fill="#050505"/>
<circle cx="188.4" cy="384.2" r="2.6" fill="#050505"/>
<circle cx="196.2" cy="384.2" r="2.6" fill="#050505"/>
<circle cx="204.6" cy="384.8" r="2.6" fill="#050505"/>
<circle cx="188.0" cy="394.0" r="2.6" fill="#050505"/>
<circle cx="196.6" cy="394.0" r="2.6" fill="#050505"/>
<circle cx="176.3" cy="396.0" r="2.6" fill="#050505"/>
<circle cx="179.6" cy="396.0" r="2.6" fill="#050505"/>
<circle cx="182.9" cy="396.0" r="2.6" fill="#050505"/>
<circle cx="186.2" cy="396.0" r="2.6" fill="#050505"/>
<circle cx="189.5" cy="396.0" r="2.6" fill="#050505"/>
<circle cx="192.8" cy="396.0" r="2.6" fill="#050505"/>
<circle cx="196.1" cy="396.0" r="2.6" fill="#050505"/>
<circle cx="199.4" cy="396.0" r="2.6" fill="#050505"/>
<circle cx="202.7" cy="396.0" r="2.6" fill="#050505"/>
<circle cx="206.0" cy="396.0" r="2.6" fill="#050505"/>
<circle cx="336.4" cy="321.5" r="2.6" fill="#050505"/>
<circle cx="334.5" cy="338.4" r="2.6" fill="#050505"/>
<circle cx="338.5" cy="339.7" r="2.6" fill="#050505"/>
<circle cx="331.7" cy="340.9" r="2.6" fill="#050505"/>
<circle cx="340.4" cy="341.6" r="2.6" fill="#050505"/>
<circle cx="328.5" cy="342.2" r="2.6" fill="#050505"/>
<circle cx="344.2" cy="344.7" r="2.6" fill="#050505"/>
<circle cx="336.7" cy="345.3" r="2.6" fill="#050505"/>
<circle cx="329.1" cy="347.8" r="2.6" fill="#050505"/>
<circle cx="329.1" cy="350.3" r="2.6" fill="#050505"/>
<circle cx="344.2" cy="349.7" r="2.6" fill="#050505"/>
<circle cx="336.7" cy="353.4" r="2.6" fill="#050505"/>
<circle cx="327.0" cy="355.3" r="2.6" fill="#050505"/>
<circle cx="346.1" cy="356.6" r="2.6" fill="#050505"/>
<circle cx="332.9" cy="357.6" r="2.6" fill="#050505"/>
<circle cx="336.7" cy="356.6" r="2.6" fill="#050505"/>
<circle cx="339.8" cy="358.5" r="2.6" fill="#050505"/>
<circle cx="327.7" cy="360.5" r="2.6" fill="#050505"/>
<circle cx="327.7" cy="363.7" r="2.6" fill="#050505"/>
<circle cx="327.7" cy="366.9" r="2.6" fill="#050505"/>
<circle cx="327.7" cy="370.1" r="2.6" fill="#050505"/>
<circle cx="327.7" cy="373.3" r="2.6" fill="#050505"/>
<circle cx="327.7" cy="376.5" r="2.6" fill="#050505"/>
<circle cx="327.7" cy="379.7" r="2.6" fill="#050505"/>
<circle cx="327.7" cy="382.9" r="2.6" fill="#050505"/>
<circle cx="327.7" cy="386.1" r="2.6" fill="#050505"/>
<circle cx="327.7" cy="389.3" r="2.6" fill="#050505"/>
<circle cx="327.7" cy="392.5" r="2.6" fill="#050505"/>
<circle cx="327.7" cy="395.7" r="2.6" fill="#050505"/>
<circle cx="336.6" cy="360.5" r="2.6" fill="#050505"/>
<circle cx="336.6" cy="363.7" r="2.6" fill="#050505"/>
<circle cx="336.6" cy="366.9" r="2.6" fill="#050505"/>
<circle cx="336.6" cy="370.1" r="2.6" fill="#050505"/>
<circle cx="336.6" cy="373.3" r="2.6" fill="#050505"/>
<circle cx="336.6" cy="376.5" r="2.6" fill="#050505"/>
<circle cx="336.6" cy="379.7" r="2.6" fill="#050505"/>
<circle cx="336.6" cy="382.9" r="2.6" fill="#050505"/>
<circle cx="336.6" cy="386.1" r="2.6" fill="#050505"/>
<circle cx="336.6" cy="389.3" r="2.6" fill="#050505"/>
<circle cx="336.6" cy="392.5" r="2.6" fill="#050505"/>
<circle cx="336.6" cy="395.7" r="2.6" fill="#050505"/>
<circle cx="345.5" cy="360.5" r="2.6" fill="#050505"/>
<circle cx="345.5" cy="363.7" r="2.6" fill="#050505"/>
<circle cx="345.5" cy="366.9" r="2.6" fill="#050505"/>
<circle cx="345.5" cy="370.1" r="2.6" fill="#050505"/>
<circle cx="345.5" cy="373.3" r="2.6" fill="#050505"/>
<circle cx="345.5" cy="376.5" r="2.6" fill="#050505"/>
<circle cx="345.5" cy="379.7" r="2.6" fill="#050505"/>
<circle cx="345.5" cy="382.9" r="2.6" fill="#050505"/>
<circle cx="345.5" cy="386.1" r="2.6" fill="#050505"/>
<circle cx="345.5" cy="389.3" r="2.6" fill="#050505"/>
<circle cx="345.5" cy="392.5" r="2.6" fill="#050505"/>
<circle cx="345.5" cy="395.7" r="2.6" fill="#050505"/>
<circle cx="332.1" cy="368.5" r="2.6" fill="#050505"/>
<circle cx="332.1" cy="371.5" r="2.6" fill="#050505"/>
<circle cx="332.1" cy="374.5" r="2.6" fill="#050505"/>
<circle cx="332.1" cy="377.5" r="2.6" fill="#050505"/>
<circle cx="332.1" cy="385.0" r="2.6" fill="#050505"/>
<circle cx="332.1" cy="388.0" r="2.6" fill="#050505"/>
<circle cx="332.1" cy="394.5" r="2.6" fill="#050505"/>
<circle cx="332.1" cy="397.5" r="2.6" fill="#050505"/>
<circle cx="341.0" cy="368.5" r="2.6" fill="#050505"/>
<circle cx="341.0" cy="371.5" r="2.6" fill="#050505"/>
<circle cx="341.0" cy="374.5" r="2.6" fill="#050505"/>
<circle cx="341.0" cy="377.5" r="2.6" fill="#050505"/>
<circle cx="341.0" cy="385.0" r="2.6" fill="#050505"/>
<circle cx="341.0" cy="388.0" r="2.6" fill="#050505"/>
<circle cx="341.0" cy="394.5" r="2.6" fill="#050505"/>
<circle cx="341.0" cy="397.5" r="2.6" fill="#050505"/>
<circle cx="373.4" cy="317.8" r="2.6" fill="#050505"/>
<circle cx="366.1" cy="351.0" r="2.6" fill="#050505"/>
<circle cx="373.4" cy="353.0" r="2.6" fill="#050505"/>
<circle cx="366.1" cy="364.4" r="2.6" fill="#050505"/>
<circle cx="373.4" cy="371.5" r="2.6" fill="#050505"/>
<circle cx="380.8" cy="369.3" r="2.6" fill="#050505"/>
<circle cx="366.1" cy="378.8" r="2.6" fill="#050505"/>
<circle cx="373.4" cy="384.4" r="2.6" fill="#050505"/>
<circle cx="366.1" cy="386.9" r="2.6" fill="#050505"/>
<circle cx="369.9" cy="385.7" r="2.6" fill="#050505"/>
<circle cx="377.2" cy="386.3" r="2.6" fill="#050505"/>
<circle cx="373.4" cy="393.2" r="2.6" fill="#050505"/>
<circle cx="381.0" cy="392.2" r="2.6" fill="#050505"/>
<circle cx="410.4" cy="358.1" r="2.6" fill="#050505"/>
<circle cx="402.9" cy="364.4" r="2.6" fill="#050505"/>
<circle cx="410.4" cy="368.8" r="2.6" fill="#050505"/>
<circle cx="418.0" cy="373.5" r="2.6" fill="#050505"/>
<circle cx="410.4" cy="377.8" r="2.6" fill="#050505"/>
<circle cx="406.7" cy="384.8" r="2.6" fill="#050505"/>
<circle cx="414.2" cy="385.7" r="2.6" fill="#050505"/>
<circle cx="402.9" cy="387.0" r="2.6" fill="#050505"/>
<circle cx="418.0" cy="387.6" r="2.6" fill="#050505"/>
<circle cx="402.9" cy="390.0" r="2.6" fill="#050505"/>
<circle cx="402.9" cy="393.0" r="2.6" fill="#050505"/>
<circle cx="402.9" cy="396.0" r="2.6" fill="#050505"/>
<circle cx="410.4" cy="390.0" r="2.6" fill="#050505"/>
<circle cx="410.4" cy="393.0" r="2.6" fill="#050505"/>
<circle cx="410.4" cy="396.0" r="2.6" fill="#050505"/>
<circle cx="418.0" cy="390.0" r="2.6" fill="#050505"/>
<circle cx="418.0" cy="393.0" r="2.6" fill="#050505"/>
<circle cx="418.0" cy="396.0" r="2.6" fill="#050505"/>
<circle cx="401.3" cy="397.0" r="2.6" fill="#050505"/>
<circle cx="404.4" cy="397.0" r="2.6" fill="#050505"/>
<circle cx="407.4" cy="397.0" r="2.6" fill="#050505"/>
<circle cx="410.5" cy="397.0" r="2.6" fill="#050505"/>
<circle cx="413.5" cy="397.0" r="2.6" fill="#050505"/>
<circle cx="416.6" cy="397.0" r="2.6" fill="#050505"/>
<circle cx="419.6" cy="397.0" r="2.6" fill="#050505"/>
<circle cx="443.2" cy="383.8" r="2.6" fill="#050505"/>
<circle cx="448.8" cy="382.6" r="2.6" fill="#050505"/>
<circle cx="450.9" cy="384.2" r="2.6" fill="#050505"/>
<circle cx="439.4" cy="387.0" r="2.6" fill="#050505"/>
<circle cx="454.8" cy="388.0" r="2.6" fill="#050505"/>
<circle cx="447.2" cy="389.0" r="2.6" fill="#050505"/>
<circle cx="439.4" cy="390.0" r="2.6" fill="#050505"/>
<circle cx="438.5" cy="392.0" r="2.6" fill="#050505"/>
<circle cx="438.5" cy="394.5" r="2.6" fill="#050505"/>
<circle cx="447.3" cy="392.0" r="2.6" fill="#050505"/>
<circle cx="447.3" cy="394.5" r="2.6" fill="#050505"/>
<circle cx="437.3" cy="396.6" r="2.6" fill="#050505"/>
<circle cx="440.5" cy="396.6" r="2.6" fill="#050505"/>
<circle cx="443.7" cy="396.6" r="2.6" fill="#050505"/>
<circle cx="446.9" cy="396.6" r="2.6" fill="#050505"/>
<circle cx="450.1" cy="396.6" r="2.6" fill="#050505"/>
<circle cx="453.3" cy="396.6" r="2.6" fill="#050505"/>
<circle cx="456.5" cy="396.6" r="2.6" fill="#050505"/>
<circle cx="483.8" cy="358.1" r="2.6" fill="#050505"/>
<circle cx="491.3" cy="382.0" r="2.6" fill="#050505"/>
<circle cx="476.5" cy="387.0" r="2.6" fill="#050505"/>
<circle cx="483.8" cy="387.0" r="2.6" fill="#050505"/>
<circle cx="476.5" cy="390.5" r="2.6" fill="#050505"/>
<circle cx="483.8" cy="390.5" r="2.6" fill="#050505"/>
<circle cx="476.5" cy="393.5" r="2.6" fill="#050505"/>
<circle cx="483.8" cy="393.5" r="2.6" fill="#050505"/>
<circle cx="491.3" cy="393.2" r="2.6" fill="#050505"/>
<circle cx="474.3" cy="397.0" r="2.6" fill="#050505"/>
<circle cx="477.5" cy="397.0" r="2.6" fill="#050505"/>
<circle cx="480.7" cy="397.0" r="2.6" fill="#050505"/>
<circle cx="483.9" cy="397.0" r="2.6" fill="#050505"/>
<circle cx="487.1" cy="397.0" r="2.6" fill="#050505"/>
<circle cx="490.3" cy="397.0" r="2.6" fill="#050505"/>
<circle cx="493.5" cy="397.0" r="2.6" fill="#050505"/>
<line x1="47.90" y1="372.50" x2="89.90" y2="372.50" stroke="#050505" stroke-width="1.5"/>
<line x1="109.90" y1="366.50" x2="151.90" y2="366.50" stroke="#050505" stroke-width="1.5"/>
<line x1="171.30" y1="389.10" x2="213.40" y2="389.10" stroke="#050505" stroke-width="1.5"/>
<line x1="323.50" y1="374.40" x2="349.80" y2="374.40" stroke="#050505" stroke-width="1.5"/>
<line x1="359.80" y1="372.80" x2="386.00" y2="372.80" stroke="#050505" stroke-width="1.5"/>
<line x1="397.00" y1="392.60" x2="423.00" y2="392.60" stroke="#050505" stroke-width="1.5"/>
<line x1="433.50" y1="394.50" x2="459.80" y2="394.50" stroke="#050505" stroke-width="1.5"/>
<line x1="470.00" y1="395.70" x2="497.00" y2="395.70" stroke="#050505" stroke-width="1.5"/>
<line x1="131.00" y1="398.60" x2="131.00" y2="401.00" stroke="#1a1a1a" stroke-width="1.0"/>
<line x1="192.50" y1="398.60" x2="192.50" y2="401.00" stroke="#1a1a1a" stroke-width="1.0"/>
<text x="59.00" y="413.10" font-size="9.4" text-anchor="start" font-weight="normal" fill="#111" stroke="#111" stroke-width="0.28" textLength="15.3" lengthAdjust="spacing">WT</text>
<text x="99.30" y="413.10" font-size="9.4" text-anchor="start" font-weight="normal" fill="#111" stroke="#111" stroke-width="0.28" textLength="53.8" lengthAdjust="spacing">+α-ICAM-2</text>
<text x="164.60" y="413.10" font-size="9.4" text-anchor="start" font-weight="normal" fill="#111" stroke="#111" stroke-width="0.28" textLength="53.1" lengthAdjust="spacing">+α-ICAM-1</text>
<line x1="67.00" y1="300.50" x2="192.00" y2="300.50" stroke="#1a1a1a" stroke-width="1.1"/>
<line x1="67.00" y1="300.50" x2="67.00" y2="304.00" stroke="#1a1a1a" stroke-width="1.1"/>
<line x1="130.50" y1="300.50" x2="130.50" y2="304.00" stroke="#1a1a1a" stroke-width="1.1"/>
<line x1="192.00" y1="300.50" x2="192.00" y2="304.00" stroke="#1a1a1a" stroke-width="1.1"/>
<text x="121.30" y="296.80" font-size="9.2" text-anchor="start" font-weight="normal" fill="#111" stroke="#111" stroke-width="0.28" textLength="18.6" lengthAdjust="spacing">n. s.</text>
<text x="176.20" y="298.60" font-size="9.5" text-anchor="middle" font-weight="normal" fill="#111" stroke="#111" stroke-width="0.5" letter-spacing="0.5">***</text>
<line x1="373.50" y1="399.80" x2="373.50" y2="402.00" stroke="#1a1a1a" stroke-width="1.0"/>
<line x1="410.00" y1="399.80" x2="410.00" y2="402.00" stroke="#1a1a1a" stroke-width="1.0"/>
<line x1="447.00" y1="399.80" x2="447.00" y2="402.00" stroke="#1a1a1a" stroke-width="1.0"/>
<line x1="483.75" y1="399.80" x2="483.75" y2="402.00" stroke="#1a1a1a" stroke-width="1.0"/>
<text x="329.40" y="411.80" font-size="7.6" text-anchor="start" font-weight="normal" fill="#111" stroke="#111" stroke-width="0.35" textLength="11.9" lengthAdjust="spacing">WT</text>
<text x="353.90" y="411.80" font-size="7.6" text-anchor="start" font-weight="normal" fill="#111" stroke="#111" stroke-width="0.35" textLength="29.0" lengthAdjust="spacing">ICAM-2</text>
<text x="384.10" y="409.20" font-size="4.2" text-anchor="start" font-weight="normal" fill="#555" stroke="#555" stroke-width="0.12" >-/-</text>
<text x="392.30" y="411.80" font-size="7.6" text-anchor="start" font-weight="normal" fill="#111" stroke="#111" stroke-width="0.35" textLength="28.5" lengthAdjust="spacing">ICAM-1</text>
<text x="422.00" y="409.20" font-size="4.2" text-anchor="start" font-weight="normal" fill="#555" stroke="#555" stroke-width="0.12" >-/-</text>
<text x="432.30" y="411.80" font-size="7.6" text-anchor="start" font-weight="normal" fill="#111" stroke="#111" stroke-width="0.35" textLength="28.0" lengthAdjust="spacing">ICAM-1</text>
<text x="461.50" y="409.20" font-size="4.2" text-anchor="start" font-weight="normal" fill="#555" stroke="#555" stroke-width="0.12" >-/-</text>
<text x="430.80" y="421.60" font-size="7.6" text-anchor="start" font-weight="normal" fill="#111" stroke="#111" stroke-width="0.35" textLength="39.2" lengthAdjust="spacing">+α-ICAM-2</text>
<text x="473.00" y="411.80" font-size="7.6" text-anchor="start" font-weight="normal" fill="#111" stroke="#111" stroke-width="0.35" textLength="39.2" lengthAdjust="spacing">ICAM-1/-2</text>
<text x="513.40" y="409.20" font-size="4.2" text-anchor="start" font-weight="normal" fill="#555" stroke="#555" stroke-width="0.12" >-/-</text>
<line x1="335.50" y1="292.70" x2="483.75" y2="292.70" stroke="#1a1a1a" stroke-width="1.1"/>
<line x1="335.50" y1="292.70" x2="335.50" y2="296.20" stroke="#1a1a1a" stroke-width="1.1"/>
<line x1="409.50" y1="292.70" x2="409.50" y2="296.20" stroke="#1a1a1a" stroke-width="1.1"/>
<line x1="447.00" y1="292.70" x2="447.00" y2="296.20" stroke="#1a1a1a" stroke-width="1.1"/>
<line x1="483.75" y1="292.70" x2="483.75" y2="296.20" stroke="#1a1a1a" stroke-width="1.1"/>
<line x1="335.50" y1="308.20" x2="373.75" y2="308.20" stroke="#1a1a1a" stroke-width="1.1"/>
<line x1="335.50" y1="308.20" x2="335.50" y2="311.50" stroke="#1a1a1a" stroke-width="1.1"/>
<line x1="373.75" y1="308.20" x2="373.75" y2="311.50" stroke="#1a1a1a" stroke-width="1.1"/>
<line x1="409.50" y1="308.20" x2="483.75" y2="308.20" stroke="#1a1a1a" stroke-width="1.1"/>
<line x1="409.50" y1="308.20" x2="409.50" y2="311.50" stroke="#1a1a1a" stroke-width="1.1"/>
<line x1="483.75" y1="308.20" x2="483.75" y2="311.50" stroke="#1a1a1a" stroke-width="1.1"/>
<line x1="447.00" y1="308.20" x2="447.00" y2="311.50" stroke="#1a1a1a" stroke-width="1.1"/>
<text x="360.00" y="305.00" font-size="9.2" text-anchor="middle" font-weight="normal" fill="#111" stroke="#111" stroke-width="0.28" >n.s.</text>
<text x="409.80" y="293.00" font-size="9.5" text-anchor="middle" font-weight="normal" fill="#111" stroke="#111" stroke-width="0.5" letter-spacing="0.5">***</text>
<text x="447.80" y="293.00" font-size="9.5" text-anchor="middle" font-weight="normal" fill="#111" stroke="#111" stroke-width="0.5" letter-spacing="0.5">***</text>
<text x="481.50" y="292.50" font-size="9.5" text-anchor="middle" font-weight="normal" fill="#111" stroke="#111" stroke-width="0.5" letter-spacing="0.5">***</text>
<text x="447.60" y="308.30" font-size="9.5" text-anchor="middle" font-weight="normal" fill="#111" stroke="#111" stroke-width="0.5" >*</text>
<text x="481.20" y="308.80" font-size="9.5" text-anchor="middle" font-weight="normal" fill="#111" stroke="#111" stroke-width="0.5" letter-spacing="0.5">***</text>
</svg>
</body></html>
